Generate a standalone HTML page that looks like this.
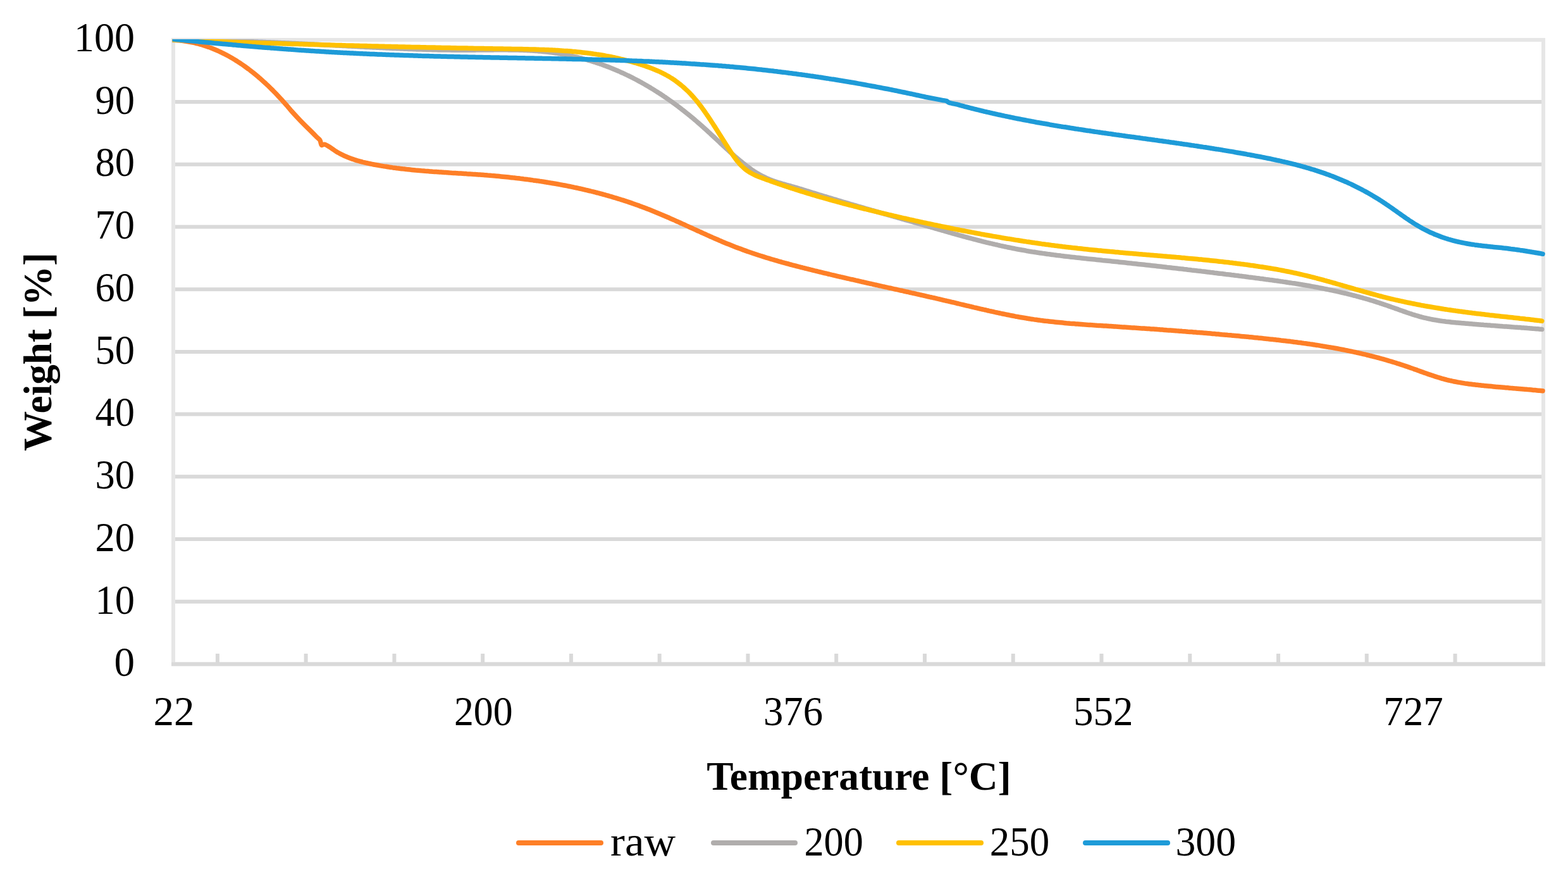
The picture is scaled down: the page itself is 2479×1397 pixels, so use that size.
<!DOCTYPE html>
<html><head><meta charset="utf-8"><title>TGA chart</title>
<style>html,body{margin:0;padding:0;background:#fff;overflow:hidden}svg{display:block}</style>
</head><body>
<svg width="2479" height="1397" viewBox="0 0 2479 1397">
<rect width="2479" height="1397" fill="#fff"/>
<rect x="274.0" y="63" width="2166.0" height="986.50" fill="none" stroke="#e6e6e6" stroke-width="6"/>
<line x1="277.0" x2="2437.0" y1="950.77" y2="950.77" stroke="#d9d9d9" stroke-width="6"/>
<line x1="277.0" x2="2437.0" y1="852.05" y2="852.05" stroke="#d9d9d9" stroke-width="6"/>
<line x1="277.0" x2="2437.0" y1="753.33" y2="753.33" stroke="#d9d9d9" stroke-width="6"/>
<line x1="277.0" x2="2437.0" y1="654.60" y2="654.60" stroke="#d9d9d9" stroke-width="6"/>
<line x1="277.0" x2="2437.0" y1="555.88" y2="555.88" stroke="#d9d9d9" stroke-width="6"/>
<line x1="277.0" x2="2437.0" y1="457.15" y2="457.15" stroke="#d9d9d9" stroke-width="6"/>
<line x1="277.0" x2="2437.0" y1="358.42" y2="358.42" stroke="#d9d9d9" stroke-width="6"/>
<line x1="277.0" x2="2437.0" y1="259.70" y2="259.70" stroke="#d9d9d9" stroke-width="6"/>
<line x1="277.0" x2="2437.0" y1="160.97" y2="160.97" stroke="#d9d9d9" stroke-width="6"/>
<line x1="271.0" x2="2443.0" y1="1049.50" y2="1049.50" stroke="#d9d9d9" stroke-width="6"/>
<line x1="343.88" x2="343.88" y1="1033" y2="1049.50" stroke="#d9d9d9" stroke-width="6"/>
<line x1="483.64" x2="483.64" y1="1033" y2="1049.50" stroke="#d9d9d9" stroke-width="6"/>
<line x1="623.40" x2="623.40" y1="1033" y2="1049.50" stroke="#d9d9d9" stroke-width="6"/>
<line x1="763.16" x2="763.16" y1="1033" y2="1049.50" stroke="#d9d9d9" stroke-width="6"/>
<line x1="902.92" x2="902.92" y1="1033" y2="1049.50" stroke="#d9d9d9" stroke-width="6"/>
<line x1="1042.68" x2="1042.68" y1="1033" y2="1049.50" stroke="#d9d9d9" stroke-width="6"/>
<line x1="1182.44" x2="1182.44" y1="1033" y2="1049.50" stroke="#d9d9d9" stroke-width="6"/>
<line x1="1322.20" x2="1322.20" y1="1033" y2="1049.50" stroke="#d9d9d9" stroke-width="6"/>
<line x1="1461.96" x2="1461.96" y1="1033" y2="1049.50" stroke="#d9d9d9" stroke-width="6"/>
<line x1="1601.72" x2="1601.72" y1="1033" y2="1049.50" stroke="#d9d9d9" stroke-width="6"/>
<line x1="1741.48" x2="1741.48" y1="1033" y2="1049.50" stroke="#d9d9d9" stroke-width="6"/>
<line x1="1881.24" x2="1881.24" y1="1033" y2="1049.50" stroke="#d9d9d9" stroke-width="6"/>
<line x1="2021.00" x2="2021.00" y1="1033" y2="1049.50" stroke="#d9d9d9" stroke-width="6"/>
<line x1="2160.76" x2="2160.76" y1="1033" y2="1049.50" stroke="#d9d9d9" stroke-width="6"/>
<line x1="2300.52" x2="2300.52" y1="1033" y2="1049.50" stroke="#d9d9d9" stroke-width="6"/>
<defs><clipPath id="pa"><rect x="272.5" y="62" width="2171.5" height="990"/></clipPath></defs>
<g clip-path="url(#pa)" fill="none" stroke-width="7.5" stroke-linecap="round" stroke-linejoin="round">
<path d="M273.0,63.1 C273.5,63.1 275.0,63.2 276.0,63.3 C277.0,63.3 278.0,63.4 279.0,63.5 C280.0,63.5 281.0,63.6 282.0,63.7 C283.0,63.8 284.0,63.9 285.0,64.0 C286.0,64.1 287.0,64.2 288.0,64.3 C289.0,64.5 290.0,64.6 291.0,64.7 C292.0,64.9 293.0,65.0 294.0,65.2 C295.0,65.3 296.0,65.5 297.0,65.7 C298.0,65.8 299.0,66.0 300.0,66.2 C301.0,66.4 302.0,66.6 303.0,66.8 C304.0,67.0 305.0,67.2 306.0,67.4 C307.0,67.7 308.0,67.9 309.0,68.1 C310.0,68.4 311.0,68.6 312.0,68.9 C313.0,69.1 314.0,69.4 315.0,69.7 C316.0,70.0 317.0,70.2 318.0,70.5 C319.0,70.8 320.0,71.1 321.0,71.4 C322.0,71.7 323.0,72.1 324.0,72.4 C325.0,72.7 326.0,73.1 327.0,73.4 C328.0,73.7 329.0,74.1 330.0,74.5 C331.0,74.8 332.0,75.2 333.0,75.6 C334.0,75.9 335.0,76.3 336.0,76.7 C337.0,77.1 338.0,77.5 339.0,77.9 C340.0,78.4 341.0,78.8 342.0,79.2 C343.0,79.7 344.0,80.1 345.0,80.5 C346.0,81.0 347.0,81.5 348.0,81.9 C349.0,82.4 350.0,82.9 351.0,83.4 C352.0,83.8 353.0,84.3 354.0,84.8 C355.0,85.4 356.0,85.9 357.0,86.4 C358.0,86.9 359.0,87.4 360.0,88.0 C361.0,88.5 362.0,89.1 363.0,89.6 C364.0,90.2 365.0,90.8 366.0,91.4 C367.0,91.9 368.0,92.5 369.0,93.1 C370.0,93.7 371.0,94.3 372.0,94.9 C373.0,95.6 374.0,96.2 375.0,96.8 C376.0,97.5 377.0,98.1 378.0,98.8 C379.0,99.4 380.0,100.1 381.0,100.7 C382.0,101.4 383.0,102.1 384.0,102.8 C385.0,103.5 386.0,104.2 387.0,104.9 C388.0,105.6 389.0,106.3 390.0,107.1 C391.0,107.8 392.0,108.5 393.0,109.3 C394.0,110.0 395.0,110.8 396.0,111.6 C397.0,112.3 398.0,113.1 399.0,113.9 C400.0,114.7 401.0,115.5 402.0,116.3 C403.0,117.1 404.0,117.9 405.0,118.8 C406.0,119.6 407.0,120.4 408.0,121.3 C409.0,122.1 410.0,123.0 411.0,123.8 C412.0,124.7 413.0,125.6 414.0,126.5 C415.0,127.4 416.0,128.3 417.0,129.2 C418.0,130.1 419.0,131.0 420.0,131.9 C421.0,132.9 422.0,133.8 423.0,134.7 C424.0,135.7 425.0,136.7 426.0,137.6 C427.0,138.6 428.0,139.6 429.0,140.6 C430.0,141.5 431.0,142.5 432.0,143.6 C433.0,144.6 434.0,145.6 435.0,146.6 C436.0,147.6 437.0,148.7 438.0,149.7 C439.0,150.8 440.0,151.8 441.0,152.9 C442.0,154.0 443.0,155.1 444.0,156.2 C445.0,157.3 446.0,158.4 447.0,159.5 C448.0,160.6 449.0,161.7 450.0,162.8 C451.0,164.0 452.0,165.1 453.0,166.3 C454.0,167.4 455.0,168.6 456.0,169.8 C457.0,170.9 458.2,172.4 459.0,173.3 C459.8,174.2 457.9,172.3 460.5,175.1 C463.1,178.0 468.9,184.4 474.6,190.3 C480.3,196.2 490.4,206.1 494.8,210.5 C499.2,214.9 499.0,214.8 500.8,216.6 C502.6,218.4 504.6,219.5 505.9,221.6 C507.2,223.7 507.2,228.1 508.4,229.2 C509.6,230.3 510.9,227.7 513.0,228.2 C515.1,228.7 518.0,230.4 521.0,232.2 C524.0,234.0 528.9,237.8 531.1,239.2 C533.3,240.7 533.1,240.4 534.1,241.0 C535.1,241.5 536.1,242.1 537.1,242.6 C538.1,243.1 539.1,243.6 540.1,244.1 C541.1,244.6 542.1,245.1 543.1,245.6 C544.1,246.1 545.1,246.5 546.1,246.9 C547.1,247.4 548.1,247.8 549.1,248.2 C550.1,248.6 551.1,249.0 552.1,249.4 C553.1,249.8 554.1,250.2 555.1,250.6 C556.1,250.9 557.1,251.3 558.1,251.6 C559.1,252.0 560.1,252.3 561.1,252.6 C562.1,252.9 563.1,253.3 564.1,253.6 C565.1,253.9 566.1,254.2 567.1,254.4 C568.1,254.7 569.1,255.0 570.1,255.3 C571.1,255.5 572.1,255.8 573.1,256.1 C574.1,256.3 575.1,256.5 576.1,256.8 C577.1,257.0 578.1,257.3 579.1,257.5 C580.1,257.7 581.1,257.9 582.1,258.1 C583.1,258.4 584.1,258.6 585.1,258.8 C586.1,259.0 587.1,259.2 588.1,259.4 C589.1,259.6 590.1,259.8 591.1,260.0 C592.1,260.2 593.1,260.3 594.1,260.5 C595.1,260.7 596.1,260.9 597.1,261.1 C598.1,261.2 599.1,261.4 600.1,261.6 C601.1,261.8 602.1,261.9 603.1,262.1 C604.1,262.3 605.1,262.4 606.1,262.6 C607.1,262.8 608.1,262.9 609.1,263.1 C610.1,263.2 611.1,263.4 612.1,263.5 C613.1,263.7 614.1,263.8 615.1,264.0 C616.1,264.1 617.1,264.3 618.1,264.4 C619.1,264.6 620.1,264.7 621.1,264.9 C622.1,265.0 623.1,265.1 624.1,265.3 C625.1,265.4 626.1,265.5 627.1,265.7 C628.1,265.8 629.1,265.9 630.1,266.0 C631.1,266.2 632.1,266.3 633.1,266.4 C634.1,266.5 635.1,266.6 636.1,266.8 C637.1,266.9 638.1,267.0 639.1,267.1 C640.1,267.2 641.1,267.3 642.1,267.4 C643.1,267.5 644.1,267.7 645.1,267.8 C646.1,267.9 647.1,268.0 648.1,268.1 C649.1,268.2 650.1,268.3 651.1,268.4 C652.1,268.5 653.1,268.6 654.1,268.7 C655.1,268.8 656.1,268.9 657.1,269.0 C658.1,269.0 659.1,269.1 660.1,269.2 C661.1,269.3 662.1,269.4 663.1,269.5 C664.1,269.6 665.1,269.7 666.1,269.8 C667.1,269.8 668.1,269.9 669.1,270.0 C670.1,270.1 671.1,270.2 672.1,270.3 C673.1,270.3 674.1,270.4 675.1,270.5 C676.1,270.6 677.1,270.6 678.1,270.7 C679.1,270.8 680.1,270.9 681.1,270.9 C682.1,271.0 683.1,271.1 684.1,271.2 C685.1,271.2 686.1,271.3 687.1,271.4 C688.1,271.5 689.1,271.5 690.1,271.6 C691.1,271.7 692.1,271.7 693.1,271.8 C694.1,271.9 695.1,271.9 696.1,272.0 C697.1,272.1 698.1,272.1 699.1,272.2 C700.1,272.3 701.1,272.3 702.1,272.4 C703.1,272.5 704.1,272.5 705.1,272.6 C706.1,272.7 707.1,272.7 708.1,272.8 C709.1,272.9 710.1,272.9 711.1,273.0 C712.1,273.0 713.1,273.1 714.1,273.2 C715.1,273.2 716.1,273.3 717.1,273.4 C718.1,273.4 719.1,273.5 720.1,273.5 C721.1,273.6 722.1,273.7 723.1,273.7 C724.1,273.8 725.1,273.9 726.1,273.9 C727.1,274.0 728.1,274.0 729.1,274.1 C730.1,274.2 731.1,274.2 732.1,274.3 C733.1,274.4 734.1,274.4 735.1,274.5 C736.1,274.6 737.1,274.6 738.1,274.7 C739.1,274.7 740.1,274.8 741.1,274.9 C742.1,274.9 743.1,275.0 744.1,275.1 C745.1,275.1 746.1,275.2 747.1,275.3 C748.1,275.3 749.1,275.4 750.1,275.5 C751.1,275.6 752.1,275.6 753.1,275.7 C754.1,275.8 755.1,275.8 756.1,275.9 C757.1,276.0 758.1,276.0 759.1,276.1 C760.1,276.2 761.1,276.3 762.1,276.3 C763.1,276.4 764.1,276.5 765.1,276.6 C766.1,276.7 767.1,276.7 768.1,276.8 C769.1,276.9 770.1,277.0 771.1,277.1 C772.1,277.1 773.1,277.2 774.1,277.3 C775.1,277.4 776.1,277.5 777.1,277.6 C778.1,277.6 779.1,277.7 780.1,277.8 C781.1,277.9 782.1,278.0 783.1,278.1 C784.1,278.2 785.1,278.3 786.1,278.3 C787.1,278.4 788.1,278.5 789.1,278.6 C790.1,278.7 791.1,278.8 792.1,278.9 C793.1,279.0 794.1,279.1 795.1,279.2 C796.1,279.3 797.1,279.4 798.1,279.5 C799.1,279.6 800.1,279.7 801.1,279.8 C802.1,279.9 803.1,280.0 804.1,280.1 C805.1,280.2 806.1,280.3 807.1,280.4 C808.1,280.5 809.1,280.6 810.1,280.8 C811.1,280.9 812.1,281.0 813.1,281.1 C814.1,281.2 815.1,281.3 816.1,281.4 C817.1,281.5 818.1,281.7 819.1,281.8 C820.1,281.9 821.1,282.0 822.1,282.1 C823.1,282.3 824.1,282.4 825.1,282.5 C826.1,282.6 827.1,282.7 828.1,282.9 C829.1,283.0 830.1,283.1 831.1,283.2 C832.1,283.4 833.1,283.5 834.1,283.6 C835.1,283.8 836.1,283.9 837.1,284.0 C838.1,284.2 839.1,284.3 840.1,284.4 C841.1,284.6 842.1,284.7 843.1,284.9 C844.1,285.0 845.1,285.1 846.1,285.3 C847.1,285.4 848.1,285.6 849.1,285.7 C850.1,285.8 851.1,286.0 852.1,286.1 C853.1,286.3 854.1,286.4 855.1,286.6 C856.1,286.7 857.1,286.9 858.1,287.1 C859.1,287.2 860.1,287.4 861.1,287.5 C862.1,287.7 863.1,287.8 864.1,288.0 C865.1,288.2 866.1,288.3 867.1,288.5 C868.1,288.6 869.1,288.8 870.1,289.0 C871.1,289.1 872.1,289.3 873.1,289.5 C874.1,289.7 875.1,289.8 876.1,290.0 C877.1,290.2 878.1,290.4 879.1,290.5 C880.1,290.7 881.1,290.9 882.1,291.1 C883.1,291.2 884.1,291.4 885.1,291.6 C886.1,291.8 887.1,292.0 888.1,292.2 C889.1,292.4 890.1,292.5 891.1,292.7 C892.1,292.9 893.1,293.1 894.1,293.3 C895.1,293.5 896.1,293.7 897.1,293.9 C898.1,294.1 899.1,294.3 900.1,294.5 C901.1,294.7 902.1,294.9 903.1,295.1 C904.1,295.3 905.1,295.5 906.1,295.7 C907.1,295.9 908.1,296.2 909.1,296.4 C910.1,296.6 911.1,296.8 912.1,297.0 C913.1,297.2 914.1,297.4 915.1,297.7 C916.1,297.9 917.1,298.1 918.1,298.3 C919.1,298.6 920.1,298.8 921.1,299.0 C922.1,299.2 923.1,299.5 924.1,299.7 C925.1,299.9 926.1,300.2 927.1,300.4 C928.1,300.6 929.1,300.9 930.1,301.1 C931.1,301.4 932.1,301.6 933.1,301.9 C934.1,302.1 935.1,302.3 936.1,302.6 C937.1,302.8 938.1,303.1 939.1,303.3 C940.1,303.6 941.1,303.8 942.1,304.1 C943.1,304.4 944.1,304.6 945.1,304.9 C946.1,305.1 947.1,305.4 948.1,305.7 C949.1,305.9 950.1,306.2 951.1,306.5 C952.1,306.7 953.1,307.0 954.1,307.3 C955.1,307.6 956.1,307.8 957.1,308.1 C958.1,308.4 959.1,308.7 960.1,309.0 C961.1,309.2 962.1,309.5 963.1,309.8 C964.1,310.1 965.1,310.4 966.1,310.7 C967.1,311.0 968.1,311.3 969.1,311.6 C970.1,311.9 971.1,312.2 972.1,312.5 C973.1,312.8 974.1,313.1 975.1,313.4 C976.1,313.7 977.1,314.0 978.1,314.3 C979.1,314.6 980.1,314.9 981.1,315.2 C982.1,315.6 983.1,315.9 984.1,316.2 C985.1,316.5 986.1,316.8 987.1,317.2 C988.1,317.5 989.1,317.8 990.1,318.1 C991.1,318.5 992.1,318.8 993.1,319.1 C994.1,319.5 995.1,319.8 996.1,320.2 C997.1,320.5 998.1,320.8 999.1,321.2 C1000.1,321.5 1001.1,321.9 1002.1,322.2 C1003.1,322.6 1004.1,322.9 1005.1,323.3 C1006.1,323.6 1007.1,324.0 1008.1,324.3 C1009.1,324.7 1010.1,325.1 1011.1,325.4 C1012.1,325.8 1013.1,326.2 1014.1,326.5 C1015.1,326.9 1016.1,327.3 1017.1,327.7 C1018.1,328.0 1019.1,328.4 1020.1,328.8 C1021.1,329.2 1022.1,329.5 1023.1,329.9 C1024.1,330.3 1025.1,330.7 1026.1,331.1 C1027.1,331.5 1028.1,331.9 1029.1,332.3 C1030.1,332.7 1031.1,333.1 1032.1,333.5 C1033.1,333.9 1034.1,334.3 1035.1,334.7 C1036.1,335.1 1037.1,335.5 1038.1,335.9 C1039.1,336.3 1040.1,336.7 1041.1,337.2 C1042.1,337.6 1043.1,338.0 1044.1,338.4 C1045.1,338.8 1046.1,339.3 1047.1,339.7 C1048.1,340.1 1049.1,340.5 1050.1,341.0 C1051.1,341.4 1052.1,341.8 1053.1,342.3 C1054.1,342.7 1055.1,343.1 1056.1,343.6 C1057.1,344.0 1058.1,344.4 1059.1,344.9 C1060.1,345.3 1061.1,345.8 1062.1,346.2 C1063.1,346.6 1064.1,347.1 1065.1,347.5 C1066.1,348.0 1067.1,348.4 1068.1,348.9 C1069.1,349.3 1070.1,349.8 1071.1,350.2 C1072.1,350.7 1073.1,351.1 1074.1,351.6 C1075.1,352.0 1076.1,352.5 1077.1,352.9 C1078.1,353.4 1079.1,353.8 1080.1,354.3 C1081.1,354.7 1082.1,355.2 1083.1,355.6 C1084.1,356.1 1085.1,356.5 1086.1,357.0 C1087.1,357.5 1088.1,357.9 1089.1,358.4 C1090.1,358.8 1091.1,359.3 1092.1,359.7 C1093.1,360.2 1094.1,360.7 1095.1,361.1 C1096.1,361.6 1097.1,362.0 1098.1,362.5 C1099.1,362.9 1100.1,363.4 1101.1,363.8 C1102.1,364.3 1103.1,364.8 1104.1,365.2 C1105.1,365.7 1106.1,366.1 1107.1,366.6 C1108.1,367.0 1109.1,367.5 1110.1,367.9 C1111.1,368.4 1112.1,368.8 1113.1,369.3 C1114.1,369.7 1115.1,370.2 1116.1,370.6 C1117.1,371.1 1118.1,371.5 1119.1,372.0 C1120.1,372.4 1121.1,372.9 1122.1,373.3 C1123.1,373.8 1124.1,374.2 1125.1,374.6 C1126.1,375.1 1127.1,375.5 1128.1,376.0 C1129.1,376.4 1130.1,376.8 1131.1,377.3 C1132.1,377.7 1133.1,378.1 1134.1,378.6 C1135.1,379.0 1136.1,379.4 1137.1,379.9 C1138.1,380.3 1139.1,380.7 1140.1,381.1 C1141.1,381.6 1142.1,382.0 1143.1,382.4 C1144.1,382.8 1145.1,383.2 1146.1,383.7 C1147.1,384.1 1148.1,384.5 1149.1,384.9 C1150.1,385.3 1151.1,385.7 1152.1,386.1 C1153.1,386.5 1154.1,386.9 1155.1,387.3 C1156.1,387.7 1157.1,388.1 1158.1,388.5 C1159.1,388.9 1160.1,389.3 1161.1,389.7 C1162.1,390.1 1163.1,390.5 1164.1,390.9 C1165.1,391.2 1166.1,391.6 1167.1,392.0 C1168.1,392.4 1169.1,392.7 1170.1,393.1 C1171.1,393.5 1172.1,393.9 1173.1,394.2 C1174.1,394.6 1175.1,395.0 1176.1,395.3 C1177.1,395.7 1178.1,396.0 1179.1,396.4 C1180.1,396.7 1181.1,397.1 1182.1,397.5 C1183.1,397.8 1184.1,398.2 1185.1,398.5 C1186.1,398.8 1187.1,399.2 1188.1,399.5 C1189.1,399.9 1190.1,400.2 1191.1,400.5 C1192.1,400.9 1193.1,401.2 1194.1,401.5 C1195.1,401.9 1196.1,402.2 1197.1,402.5 C1198.1,402.9 1199.1,403.2 1200.1,403.5 C1201.1,403.8 1202.1,404.2 1203.1,404.5 C1204.1,404.8 1205.1,405.1 1206.1,405.4 C1207.1,405.7 1208.1,406.1 1209.1,406.4 C1210.1,406.7 1211.1,407.0 1212.1,407.3 C1213.1,407.6 1214.1,407.9 1215.1,408.2 C1216.1,408.5 1217.1,408.8 1218.1,409.1 C1219.1,409.4 1220.1,409.7 1221.1,410.0 C1222.1,410.3 1223.1,410.6 1224.1,410.9 C1225.1,411.2 1226.1,411.5 1227.1,411.7 C1228.1,412.0 1229.1,412.3 1230.1,412.6 C1231.1,412.9 1232.1,413.2 1233.1,413.5 C1234.1,413.7 1235.1,414.0 1236.1,414.3 C1237.1,414.6 1238.1,414.9 1239.1,415.1 C1240.1,415.4 1241.1,415.7 1242.1,416.0 C1243.1,416.2 1244.1,416.5 1245.1,416.8 C1246.1,417.0 1247.1,417.3 1248.1,417.6 C1249.1,417.9 1250.1,418.1 1251.1,418.4 C1252.1,418.7 1253.1,418.9 1254.1,419.2 C1255.1,419.4 1256.1,419.7 1257.1,420.0 C1258.1,420.2 1259.1,420.5 1260.1,420.8 C1261.1,421.0 1262.1,421.3 1263.1,421.5 C1264.1,421.8 1265.1,422.0 1266.1,422.3 C1267.1,422.6 1268.1,422.8 1269.1,423.1 C1270.1,423.3 1271.1,423.6 1272.1,423.8 C1273.1,424.1 1274.1,424.3 1275.1,424.6 C1276.1,424.8 1277.1,425.1 1278.1,425.3 C1279.1,425.6 1280.1,425.8 1281.1,426.1 C1282.1,426.3 1283.1,426.6 1284.1,426.8 C1285.1,427.1 1286.1,427.3 1287.1,427.6 C1288.1,427.8 1289.1,428.0 1290.1,428.3 C1291.1,428.5 1292.1,428.8 1293.1,429.0 C1294.1,429.3 1295.1,429.5 1296.1,429.8 C1297.1,430.0 1298.1,430.2 1299.1,430.5 C1300.1,430.7 1301.1,431.0 1302.1,431.2 C1303.1,431.4 1304.1,431.7 1305.1,431.9 C1306.1,432.2 1307.1,432.4 1308.1,432.6 C1309.1,432.9 1310.1,433.1 1311.1,433.4 C1312.1,433.6 1313.1,433.8 1314.1,434.1 C1315.1,434.3 1316.1,434.5 1317.1,434.8 C1318.1,435.0 1319.1,435.3 1320.1,435.5 C1321.1,435.7 1322.1,436.0 1323.1,436.2 C1324.1,436.4 1325.1,436.7 1326.1,436.9 C1327.1,437.1 1328.1,437.4 1329.1,437.6 C1330.1,437.8 1331.1,438.1 1332.1,438.3 C1333.1,438.5 1334.1,438.8 1335.1,439.0 C1336.1,439.2 1337.1,439.4 1338.1,439.7 C1339.1,439.9 1340.1,440.1 1341.1,440.4 C1342.1,440.6 1343.1,440.8 1344.1,441.1 C1345.1,441.3 1346.1,441.5 1347.1,441.7 C1348.1,442.0 1349.1,442.2 1350.1,442.4 C1351.1,442.7 1352.1,442.9 1353.1,443.1 C1354.1,443.3 1355.1,443.6 1356.1,443.8 C1357.1,444.0 1358.1,444.2 1359.1,444.5 C1360.1,444.7 1361.1,444.9 1362.1,445.2 C1363.1,445.4 1364.1,445.6 1365.1,445.8 C1366.1,446.1 1367.1,446.3 1368.1,446.5 C1369.1,446.7 1370.1,447.0 1371.1,447.2 C1372.1,447.4 1373.1,447.6 1374.1,447.9 C1375.1,448.1 1376.1,448.3 1377.1,448.5 C1378.1,448.8 1379.1,449.0 1380.1,449.2 C1381.1,449.4 1382.1,449.7 1383.1,449.9 C1384.1,450.1 1385.1,450.3 1386.1,450.5 C1387.1,450.8 1388.1,451.0 1389.1,451.2 C1390.1,451.4 1391.1,451.7 1392.1,451.9 C1393.1,452.1 1394.1,452.3 1395.1,452.6 C1396.1,452.8 1397.1,453.0 1398.1,453.2 C1399.1,453.4 1400.1,453.7 1401.1,453.9 C1402.1,454.1 1403.1,454.3 1404.1,454.6 C1405.1,454.8 1406.1,455.0 1407.1,455.2 C1408.1,455.5 1409.1,455.7 1410.1,455.9 C1411.1,456.1 1412.1,456.3 1413.1,456.6 C1414.1,456.8 1415.1,457.0 1416.1,457.2 C1417.1,457.5 1418.1,457.7 1419.1,457.9 C1420.1,458.1 1421.1,458.3 1422.1,458.6 C1423.1,458.8 1424.1,459.0 1425.1,459.2 C1426.1,459.5 1427.1,459.7 1428.1,459.9 C1429.1,460.1 1430.1,460.4 1431.1,460.6 C1432.1,460.8 1433.1,461.0 1434.1,461.2 C1435.1,461.5 1436.1,461.7 1437.1,461.9 C1438.1,462.1 1439.1,462.4 1440.1,462.6 C1441.1,462.8 1442.1,463.0 1443.1,463.3 C1444.1,463.5 1445.1,463.7 1446.1,463.9 C1447.1,464.2 1448.1,464.4 1449.1,464.6 C1450.1,464.8 1451.1,465.1 1452.1,465.3 C1453.1,465.5 1454.1,465.7 1455.1,466.0 C1456.1,466.2 1457.1,466.4 1458.1,466.6 C1459.1,466.9 1460.1,467.1 1461.1,467.3 C1462.1,467.5 1463.1,467.8 1464.1,468.0 C1465.1,468.2 1466.1,468.5 1467.1,468.7 C1468.1,468.9 1469.1,469.1 1470.1,469.4 C1471.1,469.6 1472.1,469.8 1473.1,470.0 C1474.1,470.3 1475.1,470.5 1476.1,470.7 C1477.1,471.0 1478.1,471.2 1479.1,471.4 C1480.1,471.7 1481.1,471.9 1482.1,472.1 C1483.1,472.3 1484.1,472.6 1485.1,472.8 C1486.1,473.0 1487.1,473.3 1488.1,473.5 C1489.1,473.7 1490.1,474.0 1491.1,474.2 C1492.1,474.4 1493.1,474.7 1494.1,474.9 C1495.1,475.1 1496.1,475.4 1497.1,475.6 C1498.1,475.8 1499.1,476.1 1500.1,476.3 C1501.1,476.5 1502.1,476.8 1503.1,477.0 C1504.1,477.2 1505.1,477.5 1506.1,477.7 C1507.1,478.0 1508.1,478.2 1509.1,478.4 C1510.1,478.7 1511.1,478.9 1512.1,479.1 C1513.1,479.4 1514.1,479.6 1515.1,479.9 C1516.1,480.1 1517.1,480.3 1518.1,480.6 C1519.1,480.8 1520.1,481.0 1521.1,481.3 C1522.1,481.5 1523.1,481.8 1524.1,482.0 C1525.1,482.2 1526.1,482.5 1527.1,482.7 C1528.1,482.9 1529.1,483.2 1530.1,483.4 C1531.1,483.7 1532.1,483.9 1533.1,484.1 C1534.1,484.4 1535.1,484.6 1536.1,484.8 C1537.1,485.1 1538.1,485.3 1539.1,485.6 C1540.1,485.8 1541.1,486.0 1542.1,486.3 C1543.1,486.5 1544.1,486.7 1545.1,487.0 C1546.1,487.2 1547.1,487.4 1548.1,487.7 C1549.1,487.9 1550.1,488.1 1551.1,488.4 C1552.1,488.6 1553.1,488.8 1554.1,489.0 C1555.1,489.3 1556.1,489.5 1557.1,489.7 C1558.1,490.0 1559.1,490.2 1560.1,490.4 C1561.1,490.6 1562.1,490.9 1563.1,491.1 C1564.1,491.3 1565.1,491.5 1566.1,491.8 C1567.1,492.0 1568.1,492.2 1569.1,492.4 C1570.1,492.7 1571.1,492.9 1572.1,493.1 C1573.1,493.3 1574.1,493.5 1575.1,493.8 C1576.1,494.0 1577.1,494.2 1578.1,494.4 C1579.1,494.6 1580.1,494.8 1581.1,495.0 C1582.1,495.3 1583.1,495.5 1584.1,495.7 C1585.1,495.9 1586.1,496.1 1587.1,496.3 C1588.1,496.5 1589.1,496.7 1590.1,496.9 C1591.1,497.1 1592.1,497.3 1593.1,497.5 C1594.1,497.7 1595.1,497.9 1596.1,498.1 C1597.1,498.3 1598.1,498.5 1599.1,498.7 C1600.1,498.9 1601.1,499.1 1602.1,499.3 C1603.1,499.5 1604.1,499.7 1605.1,499.9 C1606.1,500.0 1607.1,500.2 1608.1,500.4 C1609.1,500.6 1610.1,500.8 1611.1,501.0 C1612.1,501.1 1613.1,501.3 1614.1,501.5 C1615.1,501.7 1616.1,501.8 1617.1,502.0 C1618.1,502.2 1619.1,502.4 1620.1,502.5 C1621.1,502.7 1622.1,502.9 1623.1,503.0 C1624.1,503.2 1625.1,503.3 1626.1,503.5 C1627.1,503.7 1628.1,503.8 1629.1,504.0 C1630.1,504.1 1631.1,504.3 1632.1,504.4 C1633.1,504.6 1634.1,504.7 1635.1,504.9 C1636.1,505.0 1637.1,505.2 1638.1,505.3 C1639.1,505.4 1640.1,505.6 1641.1,505.7 C1642.1,505.9 1643.1,506.0 1644.1,506.1 C1645.1,506.3 1646.1,506.4 1647.1,506.5 C1648.1,506.6 1649.1,506.8 1650.1,506.9 C1651.1,507.0 1652.1,507.1 1653.1,507.3 C1654.1,507.4 1655.1,507.5 1656.1,507.6 C1657.1,507.7 1658.1,507.9 1659.1,508.0 C1660.1,508.1 1661.1,508.2 1662.1,508.3 C1663.1,508.4 1664.1,508.5 1665.1,508.6 C1666.1,508.7 1667.1,508.8 1668.1,508.9 C1669.1,509.0 1670.1,509.1 1671.1,509.2 C1672.1,509.3 1673.1,509.4 1674.1,509.5 C1675.1,509.6 1676.1,509.7 1677.1,509.8 C1678.1,509.9 1679.1,510.0 1680.1,510.1 C1681.1,510.2 1682.1,510.3 1683.1,510.4 C1684.1,510.5 1685.1,510.6 1686.1,510.7 C1687.1,510.7 1688.1,510.8 1689.1,510.9 C1690.1,511.0 1691.1,511.1 1692.1,511.2 C1693.1,511.2 1694.1,511.3 1695.1,511.4 C1696.1,511.5 1697.1,511.6 1698.1,511.6 C1699.1,511.7 1700.1,511.8 1701.1,511.9 C1702.1,512.0 1703.1,512.0 1704.1,512.1 C1705.1,512.2 1706.1,512.3 1707.1,512.3 C1708.1,512.4 1709.1,512.5 1710.1,512.5 C1711.1,512.6 1712.1,512.7 1713.1,512.8 C1714.1,512.8 1715.1,512.9 1716.1,513.0 C1717.1,513.0 1718.1,513.1 1719.1,513.2 C1720.1,513.2 1721.1,513.3 1722.1,513.4 C1723.1,513.4 1724.1,513.5 1725.1,513.6 C1726.1,513.6 1727.1,513.7 1728.1,513.8 C1729.1,513.8 1730.1,513.9 1731.1,514.0 C1732.1,514.0 1733.1,514.1 1734.1,514.2 C1735.1,514.2 1736.1,514.3 1737.1,514.4 C1738.1,514.4 1739.1,514.5 1740.1,514.5 C1741.1,514.6 1742.1,514.7 1743.1,514.7 C1744.1,514.8 1745.1,514.9 1746.1,514.9 C1747.1,515.0 1748.1,515.1 1749.1,515.1 C1750.1,515.2 1751.1,515.2 1752.1,515.3 C1753.1,515.4 1754.1,515.4 1755.1,515.5 C1756.1,515.6 1757.1,515.6 1758.1,515.7 C1759.1,515.8 1760.1,515.8 1761.1,515.9 C1762.1,516.0 1763.1,516.0 1764.1,516.1 C1765.1,516.1 1766.1,516.2 1767.1,516.3 C1768.1,516.3 1769.1,516.4 1770.1,516.5 C1771.1,516.5 1772.1,516.6 1773.1,516.7 C1774.1,516.7 1775.1,516.8 1776.1,516.9 C1777.1,516.9 1778.1,517.0 1779.1,517.1 C1780.1,517.1 1781.1,517.2 1782.1,517.3 C1783.1,517.3 1784.1,517.4 1785.1,517.5 C1786.1,517.5 1787.1,517.6 1788.1,517.7 C1789.1,517.7 1790.1,517.8 1791.1,517.9 C1792.1,517.9 1793.1,518.0 1794.1,518.1 C1795.1,518.1 1796.1,518.2 1797.1,518.3 C1798.1,518.3 1799.1,518.4 1800.1,518.5 C1801.1,518.5 1802.1,518.6 1803.1,518.7 C1804.1,518.7 1805.1,518.8 1806.1,518.9 C1807.1,518.9 1808.1,519.0 1809.1,519.1 C1810.1,519.2 1811.1,519.2 1812.1,519.3 C1813.1,519.4 1814.1,519.4 1815.1,519.5 C1816.1,519.6 1817.1,519.6 1818.1,519.7 C1819.1,519.8 1820.1,519.9 1821.1,519.9 C1822.1,520.0 1823.1,520.1 1824.1,520.1 C1825.1,520.2 1826.1,520.3 1827.1,520.3 C1828.1,520.4 1829.1,520.5 1830.1,520.6 C1831.1,520.6 1832.1,520.7 1833.1,520.8 C1834.1,520.9 1835.1,520.9 1836.1,521.0 C1837.1,521.1 1838.1,521.1 1839.1,521.2 C1840.1,521.3 1841.1,521.4 1842.1,521.4 C1843.1,521.5 1844.1,521.6 1845.1,521.7 C1846.1,521.7 1847.1,521.8 1848.1,521.9 C1849.1,521.9 1850.1,522.0 1851.1,522.1 C1852.1,522.2 1853.1,522.2 1854.1,522.3 C1855.1,522.4 1856.1,522.5 1857.1,522.5 C1858.1,522.6 1859.1,522.7 1860.1,522.8 C1861.1,522.8 1862.1,522.9 1863.1,523.0 C1864.1,523.1 1865.1,523.2 1866.1,523.2 C1867.1,523.3 1868.1,523.4 1869.1,523.5 C1870.1,523.5 1871.1,523.6 1872.1,523.7 C1873.1,523.8 1874.1,523.8 1875.1,523.9 C1876.1,524.0 1877.1,524.1 1878.1,524.2 C1879.1,524.2 1880.1,524.3 1881.1,524.4 C1882.1,524.5 1883.1,524.6 1884.1,524.6 C1885.1,524.7 1886.1,524.8 1887.1,524.9 C1888.1,525.0 1889.1,525.0 1890.1,525.1 C1891.1,525.2 1892.1,525.3 1893.1,525.4 C1894.1,525.4 1895.1,525.5 1896.1,525.6 C1897.1,525.7 1898.1,525.8 1899.1,525.8 C1900.1,525.9 1901.1,526.0 1902.1,526.1 C1903.1,526.2 1904.1,526.3 1905.1,526.3 C1906.1,526.4 1907.1,526.5 1908.1,526.6 C1909.1,526.7 1910.1,526.8 1911.1,526.8 C1912.1,526.9 1913.1,527.0 1914.1,527.1 C1915.1,527.2 1916.1,527.3 1917.1,527.4 C1918.1,527.4 1919.1,527.5 1920.1,527.6 C1921.1,527.7 1922.1,527.8 1923.1,527.9 C1924.1,528.0 1925.1,528.0 1926.1,528.1 C1927.1,528.2 1928.1,528.3 1929.1,528.4 C1930.1,528.5 1931.1,528.6 1932.1,528.7 C1933.1,528.7 1934.1,528.8 1935.1,528.9 C1936.1,529.0 1937.1,529.1 1938.1,529.2 C1939.1,529.3 1940.1,529.4 1941.1,529.5 C1942.1,529.5 1943.1,529.6 1944.1,529.7 C1945.1,529.8 1946.1,529.9 1947.1,530.0 C1948.1,530.1 1949.1,530.2 1950.1,530.3 C1951.1,530.4 1952.1,530.5 1953.1,530.5 C1954.1,530.6 1955.1,530.7 1956.1,530.8 C1957.1,530.9 1958.1,531.0 1959.1,531.1 C1960.1,531.2 1961.1,531.3 1962.1,531.4 C1963.1,531.5 1964.1,531.6 1965.1,531.7 C1966.1,531.8 1967.1,531.9 1968.1,532.0 C1969.1,532.1 1970.1,532.1 1971.1,532.2 C1972.1,532.3 1973.1,532.4 1974.1,532.5 C1975.1,532.6 1976.1,532.7 1977.1,532.8 C1978.1,532.9 1979.1,533.0 1980.1,533.1 C1981.1,533.2 1982.1,533.3 1983.1,533.4 C1984.1,533.5 1985.1,533.6 1986.1,533.7 C1987.1,533.8 1988.1,533.9 1989.1,534.0 C1990.1,534.1 1991.1,534.2 1992.1,534.3 C1993.1,534.4 1994.1,534.5 1995.1,534.6 C1996.1,534.7 1997.1,534.8 1998.1,534.9 C1999.1,535.0 2000.1,535.1 2001.1,535.2 C2002.1,535.3 2003.1,535.4 2004.1,535.6 C2005.1,535.7 2006.1,535.8 2007.1,535.9 C2008.1,536.0 2009.1,536.1 2010.1,536.2 C2011.1,536.3 2012.1,536.4 2013.1,536.5 C2014.1,536.6 2015.1,536.7 2016.1,536.8 C2017.1,537.0 2018.1,537.1 2019.1,537.2 C2020.1,537.3 2021.1,537.4 2022.1,537.5 C2023.1,537.6 2024.1,537.7 2025.1,537.9 C2026.1,538.0 2027.1,538.1 2028.1,538.2 C2029.1,538.3 2030.1,538.4 2031.1,538.6 C2032.1,538.7 2033.1,538.8 2034.1,538.9 C2035.1,539.0 2036.1,539.2 2037.1,539.3 C2038.1,539.4 2039.1,539.5 2040.1,539.6 C2041.1,539.8 2042.1,539.9 2043.1,540.0 C2044.1,540.1 2045.1,540.3 2046.1,540.4 C2047.1,540.5 2048.1,540.7 2049.1,540.8 C2050.1,540.9 2051.1,541.0 2052.1,541.2 C2053.1,541.3 2054.1,541.4 2055.1,541.6 C2056.1,541.7 2057.1,541.8 2058.1,542.0 C2059.1,542.1 2060.1,542.2 2061.1,542.4 C2062.1,542.5 2063.1,542.7 2064.1,542.8 C2065.1,542.9 2066.1,543.1 2067.1,543.2 C2068.1,543.4 2069.1,543.5 2070.1,543.6 C2071.1,543.8 2072.1,543.9 2073.1,544.1 C2074.1,544.2 2075.1,544.4 2076.1,544.5 C2077.1,544.7 2078.1,544.8 2079.1,545.0 C2080.1,545.1 2081.1,545.3 2082.1,545.4 C2083.1,545.6 2084.1,545.7 2085.1,545.9 C2086.1,546.1 2087.1,546.2 2088.1,546.4 C2089.1,546.5 2090.1,546.7 2091.1,546.9 C2092.1,547.0 2093.1,547.2 2094.1,547.4 C2095.1,547.5 2096.1,547.7 2097.1,547.9 C2098.1,548.0 2099.1,548.2 2100.1,548.4 C2101.1,548.5 2102.1,548.7 2103.1,548.9 C2104.1,549.1 2105.1,549.2 2106.1,549.4 C2107.1,549.6 2108.1,549.8 2109.1,549.9 C2110.1,550.1 2111.1,550.3 2112.1,550.5 C2113.1,550.7 2114.1,550.9 2115.1,551.0 C2116.1,551.2 2117.1,551.4 2118.1,551.6 C2119.1,551.8 2120.1,552.0 2121.1,552.2 C2122.1,552.4 2123.1,552.6 2124.1,552.8 C2125.1,553.0 2126.1,553.2 2127.1,553.4 C2128.1,553.6 2129.1,553.8 2130.1,554.0 C2131.1,554.2 2132.1,554.4 2133.1,554.6 C2134.1,554.8 2135.1,555.0 2136.1,555.2 C2137.1,555.4 2138.1,555.6 2139.1,555.9 C2140.1,556.1 2141.1,556.3 2142.1,556.5 C2143.1,556.7 2144.1,556.9 2145.1,557.2 C2146.1,557.4 2147.1,557.6 2148.1,557.8 C2149.1,558.1 2150.1,558.3 2151.1,558.5 C2152.1,558.7 2153.1,559.0 2154.1,559.2 C2155.1,559.4 2156.1,559.7 2157.1,559.9 C2158.1,560.2 2159.1,560.4 2160.1,560.6 C2161.1,560.9 2162.1,561.1 2163.1,561.4 C2164.1,561.6 2165.1,561.9 2166.1,562.1 C2167.1,562.4 2168.1,562.6 2169.1,562.9 C2170.1,563.1 2171.1,563.4 2172.1,563.6 C2173.1,563.9 2174.1,564.2 2175.1,564.4 C2176.1,564.7 2177.1,565.0 2178.1,565.2 C2179.1,565.5 2180.1,565.8 2181.1,566.0 C2182.1,566.3 2183.1,566.6 2184.1,566.9 C2185.1,567.1 2186.1,567.4 2187.1,567.7 C2188.1,568.0 2189.1,568.3 2190.1,568.5 C2191.1,568.8 2192.1,569.1 2193.1,569.4 C2194.1,569.7 2195.1,570.0 2196.1,570.3 C2197.1,570.6 2198.1,570.9 2199.1,571.2 C2200.1,571.5 2201.1,571.8 2202.1,572.1 C2203.1,572.4 2204.1,572.7 2205.1,573.0 C2206.1,573.3 2207.1,573.6 2208.1,573.9 C2209.1,574.3 2210.1,574.6 2211.1,574.9 C2212.1,575.2 2213.1,575.5 2214.1,575.9 C2215.1,576.2 2216.1,576.5 2217.1,576.8 C2218.1,577.2 2219.1,577.5 2220.1,577.8 C2221.1,578.2 2222.1,578.5 2223.1,578.9 C2224.1,579.2 2225.1,579.5 2226.1,579.9 C2227.1,580.2 2228.1,580.6 2229.1,580.9 C2230.1,581.3 2231.1,581.6 2232.1,582.0 C2233.1,582.3 2234.1,582.7 2235.1,583.1 C2236.1,583.4 2237.1,583.8 2238.1,584.1 C2239.1,584.5 2240.1,584.9 2241.1,585.2 C2242.1,585.6 2243.1,585.9 2244.1,586.3 C2245.1,586.7 2246.1,587.0 2247.1,587.4 C2248.1,587.7 2249.1,588.1 2250.1,588.4 C2251.1,588.8 2252.1,589.2 2253.1,589.5 C2254.1,589.9 2255.1,590.2 2256.1,590.6 C2257.1,590.9 2258.1,591.3 2259.1,591.6 C2260.1,591.9 2261.1,592.3 2262.1,592.6 C2263.1,593.0 2264.1,593.3 2265.1,593.6 C2266.1,594.0 2267.1,594.3 2268.1,594.6 C2269.1,594.9 2270.1,595.3 2271.1,595.6 C2272.1,595.9 2273.1,596.2 2274.1,596.5 C2275.1,596.8 2276.1,597.1 2277.1,597.4 C2278.1,597.7 2279.1,598.0 2280.1,598.3 C2281.1,598.6 2282.1,598.8 2283.1,599.1 C2284.1,599.4 2285.1,599.6 2286.1,599.9 C2287.1,600.2 2288.1,600.4 2289.1,600.7 C2290.1,600.9 2291.1,601.1 2292.1,601.4 C2293.1,601.6 2294.1,601.8 2295.1,602.0 C2296.1,602.3 2297.1,602.5 2298.1,602.7 C2299.1,602.9 2300.1,603.1 2301.1,603.3 C2302.1,603.5 2303.1,603.7 2304.1,603.9 C2305.1,604.1 2306.1,604.2 2307.1,604.4 C2308.1,604.6 2309.1,604.8 2310.1,604.9 C2311.1,605.1 2312.1,605.2 2313.1,605.4 C2314.1,605.6 2315.1,605.7 2316.1,605.9 C2317.1,606.0 2318.1,606.2 2319.1,606.3 C2320.1,606.4 2321.1,606.6 2322.1,606.7 C2323.1,606.9 2324.1,607.0 2325.1,607.1 C2326.1,607.2 2327.1,607.4 2328.1,607.5 C2329.1,607.6 2330.1,607.7 2331.1,607.8 C2332.1,608.0 2333.1,608.1 2334.1,608.2 C2335.1,608.3 2336.1,608.4 2337.1,608.5 C2338.1,608.6 2339.1,608.7 2340.1,608.8 C2341.1,609.0 2342.1,609.1 2343.1,609.2 C2344.1,609.3 2345.1,609.4 2346.1,609.5 C2347.1,609.6 2348.1,609.7 2349.1,609.8 C2350.1,609.9 2351.1,610.0 2352.1,610.0 C2353.1,610.1 2354.1,610.2 2355.1,610.3 C2356.1,610.4 2357.1,610.5 2358.1,610.6 C2359.1,610.7 2360.1,610.8 2361.1,610.9 C2362.1,611.0 2363.1,611.1 2364.1,611.2 C2365.1,611.3 2366.1,611.4 2367.1,611.4 C2368.1,611.5 2369.1,611.6 2370.1,611.7 C2371.1,611.8 2372.1,611.9 2373.1,612.0 C2374.1,612.1 2375.1,612.1 2376.1,612.2 C2377.1,612.3 2378.1,612.4 2379.1,612.5 C2380.1,612.6 2381.1,612.7 2382.1,612.7 C2383.1,612.8 2384.1,612.9 2385.1,613.0 C2386.1,613.1 2387.1,613.2 2388.1,613.3 C2389.1,613.3 2390.1,613.4 2391.1,613.5 C2392.1,613.6 2393.1,613.7 2394.1,613.8 C2395.1,613.8 2396.1,613.9 2397.1,614.0 C2398.1,614.1 2399.1,614.2 2400.1,614.3 C2401.1,614.4 2402.1,614.4 2403.1,614.5 C2404.1,614.6 2405.1,614.7 2406.1,614.8 C2407.1,614.9 2408.1,615.0 2409.1,615.0 C2410.1,615.1 2411.1,615.2 2412.1,615.3 C2413.1,615.4 2414.1,615.5 2415.1,615.6 C2416.1,615.6 2417.1,615.7 2418.1,615.8 C2419.1,615.9 2420.1,616.0 2421.1,616.1 C2422.1,616.2 2423.1,616.3 2424.1,616.4 C2425.1,616.4 2426.1,616.5 2427.1,616.6 C2428.1,616.7 2429.1,616.8 2430.1,616.9 C2431.1,617.0 2432.1,617.1 2433.1,617.2 C2434.1,617.3 2435.1,617.4 2436.1,617.5 C2437.1,617.6 2438.5,617.7 2439.0,617.8" stroke="#fe7f27"/>
<path d="M273.0,63.5 C273.5,63.5 275.0,63.5 276.0,63.5 C277.0,63.5 278.0,63.5 279.0,63.5 C280.0,63.5 281.0,63.5 282.0,63.5 C283.0,63.5 284.0,63.5 285.0,63.5 C286.0,63.5 287.0,63.5 288.0,63.5 C289.0,63.5 290.0,63.5 291.0,63.5 C292.0,63.5 293.0,63.5 294.0,63.5 C295.0,63.5 296.0,63.5 297.0,63.5 C298.0,63.5 299.0,63.5 300.0,63.5 C301.0,63.6 302.0,63.6 303.0,63.6 C304.0,63.6 305.0,63.6 306.0,63.6 C307.0,63.6 308.0,63.6 309.0,63.6 C310.0,63.6 311.0,63.6 312.0,63.6 C313.0,63.7 314.0,63.7 315.0,63.7 C316.0,63.7 317.0,63.7 318.0,63.7 C319.0,63.7 320.0,63.7 321.0,63.8 C322.0,63.8 323.0,63.8 324.0,63.8 C325.0,63.8 326.0,63.8 327.0,63.8 C328.0,63.9 329.0,63.9 330.0,63.9 C331.0,63.9 332.0,63.9 333.0,63.9 C334.0,64.0 335.0,64.0 336.0,64.0 C337.0,64.0 338.0,64.0 339.0,64.0 C340.0,64.1 341.0,64.1 342.0,64.1 C343.0,64.1 344.0,64.1 345.0,64.2 C346.0,64.2 347.0,64.2 348.0,64.2 C349.0,64.3 350.0,64.3 351.0,64.3 C352.0,64.3 353.0,64.4 354.0,64.4 C355.0,64.4 356.0,64.4 357.0,64.5 C358.0,64.5 359.0,64.5 360.0,64.5 C361.0,64.6 362.0,64.6 363.0,64.6 C364.0,64.6 365.0,64.7 366.0,64.7 C367.0,64.7 368.0,64.7 369.0,64.8 C370.0,64.8 371.0,64.8 372.0,64.9 C373.0,64.9 374.0,64.9 375.0,64.9 C376.0,65.0 377.0,65.0 378.0,65.0 C379.0,65.1 380.0,65.1 381.0,65.1 C382.0,65.2 383.0,65.2 384.0,65.2 C385.0,65.3 386.0,65.3 387.0,65.3 C388.0,65.4 389.0,65.4 390.0,65.4 C391.0,65.5 392.0,65.5 393.0,65.5 C394.0,65.6 395.0,65.6 396.0,65.6 C397.0,65.7 398.0,65.7 399.0,65.7 C400.0,65.8 401.0,65.8 402.0,65.9 C403.0,65.9 404.0,65.9 405.0,66.0 C406.0,66.0 407.0,66.0 408.0,66.1 C409.0,66.1 410.0,66.2 411.0,66.2 C412.0,66.2 413.0,66.3 414.0,66.3 C415.0,66.4 416.0,66.4 417.0,66.4 C418.0,66.5 419.0,66.5 420.0,66.6 C421.0,66.6 422.0,66.6 423.0,66.7 C424.0,66.7 425.0,66.8 426.0,66.8 C427.0,66.8 428.0,66.9 429.0,66.9 C430.0,67.0 431.0,67.0 432.0,67.0 C433.0,67.1 434.0,67.1 435.0,67.2 C436.0,67.2 437.0,67.3 438.0,67.3 C439.0,67.4 440.0,67.4 441.0,67.4 C442.0,67.5 443.0,67.5 444.0,67.6 C445.0,67.6 446.0,67.7 447.0,67.7 C448.0,67.8 449.0,67.8 450.0,67.8 C451.0,67.9 452.0,67.9 453.0,68.0 C454.0,68.0 455.0,68.1 456.0,68.1 C457.0,68.2 458.0,68.2 459.0,68.3 C460.0,68.3 461.0,68.4 462.0,68.4 C463.0,68.4 464.0,68.5 465.0,68.5 C466.0,68.6 467.0,68.6 468.0,68.7 C469.0,68.7 470.0,68.8 471.0,68.8 C472.0,68.9 473.0,68.9 474.0,69.0 C475.0,69.0 476.0,69.1 477.0,69.1 C478.0,69.2 479.0,69.2 480.0,69.3 C481.0,69.3 482.0,69.4 483.0,69.4 C484.0,69.5 485.0,69.5 486.0,69.6 C487.0,69.6 488.0,69.7 489.0,69.7 C490.0,69.8 491.0,69.8 492.0,69.9 C493.0,69.9 494.0,70.0 495.0,70.0 C496.0,70.1 497.0,70.1 498.0,70.2 C499.0,70.2 500.0,70.3 501.0,70.3 C502.0,70.4 503.0,70.4 504.0,70.5 C505.0,70.5 506.0,70.6 507.0,70.6 C508.0,70.7 509.0,70.7 510.0,70.8 C511.0,70.8 512.0,70.9 513.0,70.9 C514.0,71.0 515.0,71.0 516.0,71.1 C517.0,71.1 518.0,71.2 519.0,71.2 C520.0,71.3 521.0,71.3 522.0,71.4 C523.0,71.5 524.0,71.5 525.0,71.6 C526.0,71.6 527.0,71.7 528.0,71.7 C529.0,71.8 530.0,71.8 531.0,71.9 C532.0,71.9 533.0,72.0 534.0,72.0 C535.0,72.1 536.0,72.1 537.0,72.2 C538.0,72.2 539.0,72.3 540.0,72.3 C541.0,72.4 542.0,72.4 543.0,72.5 C544.0,72.5 545.0,72.6 546.0,72.6 C547.0,72.7 548.0,72.8 549.0,72.8 C550.0,72.9 551.0,72.9 552.0,73.0 C553.0,73.0 554.0,73.1 555.0,73.1 C556.0,73.2 557.0,73.2 558.0,73.3 C559.0,73.3 560.0,73.4 561.0,73.4 C562.0,73.5 563.0,73.5 564.0,73.6 C565.0,73.6 566.0,73.7 567.0,73.7 C568.0,73.8 569.0,73.8 570.0,73.9 C571.0,73.9 572.0,74.0 573.0,74.0 C574.0,74.1 575.0,74.1 576.0,74.2 C577.0,74.2 578.0,74.3 579.0,74.4 C580.0,74.4 581.0,74.5 582.0,74.5 C583.0,74.6 584.0,74.6 585.0,74.7 C586.0,74.7 587.0,74.8 588.0,74.8 C589.0,74.9 590.0,74.9 591.0,75.0 C592.0,75.0 593.0,75.1 594.0,75.1 C595.0,75.2 596.0,75.2 597.0,75.3 C598.0,75.3 599.0,75.4 600.0,75.4 C601.0,75.4 602.0,75.5 603.0,75.5 C604.0,75.6 605.0,75.6 606.0,75.7 C607.0,75.7 608.0,75.8 609.0,75.8 C610.0,75.9 611.0,75.9 612.0,76.0 C613.0,76.0 614.0,76.1 615.0,76.1 C616.0,76.2 617.0,76.2 618.0,76.3 C619.0,76.3 620.0,76.3 621.0,76.4 C622.0,76.4 623.0,76.5 624.0,76.5 C625.0,76.6 626.0,76.6 627.0,76.7 C628.0,76.7 629.0,76.7 630.0,76.8 C631.0,76.8 632.0,76.9 633.0,76.9 C634.0,77.0 635.0,77.0 636.0,77.0 C637.0,77.1 638.0,77.1 639.0,77.2 C640.0,77.2 641.0,77.2 642.0,77.3 C643.0,77.3 644.0,77.4 645.0,77.4 C646.0,77.4 647.0,77.5 648.0,77.5 C649.0,77.6 650.0,77.6 651.0,77.6 C652.0,77.7 653.0,77.7 654.0,77.7 C655.0,77.8 656.0,77.8 657.0,77.8 C658.0,77.9 659.0,77.9 660.0,78.0 C661.0,78.0 662.0,78.0 663.0,78.1 C664.0,78.1 665.0,78.1 666.0,78.1 C667.0,78.2 668.0,78.2 669.0,78.2 C670.0,78.3 671.0,78.3 672.0,78.3 C673.0,78.4 674.0,78.4 675.0,78.4 C676.0,78.4 677.0,78.5 678.0,78.5 C679.0,78.5 680.0,78.6 681.0,78.6 C682.0,78.6 683.0,78.6 684.0,78.7 C685.0,78.7 686.0,78.7 687.0,78.7 C688.0,78.8 689.0,78.8 690.0,78.8 C691.0,78.8 692.0,78.8 693.0,78.9 C694.0,78.9 695.0,78.9 696.0,78.9 C697.0,78.9 698.0,79.0 699.0,79.0 C700.0,79.0 701.0,79.0 702.0,79.0 C703.0,79.0 704.0,79.1 705.0,79.1 C706.0,79.1 707.0,79.1 708.0,79.1 C709.0,79.1 710.0,79.1 711.0,79.1 C712.0,79.2 713.0,79.2 714.0,79.2 C715.0,79.2 716.0,79.2 717.0,79.2 C718.0,79.2 719.0,79.2 720.0,79.2 C721.0,79.2 722.0,79.2 723.0,79.2 C724.0,79.3 725.0,79.3 726.0,79.3 C727.0,79.3 728.0,79.3 729.0,79.3 C730.0,79.3 731.0,79.3 732.0,79.3 C733.0,79.3 734.0,79.3 735.0,79.3 C736.0,79.3 737.0,79.3 738.0,79.2 C739.0,79.2 740.0,79.2 741.0,79.2 C742.0,79.2 743.0,79.2 744.0,79.2 C745.0,79.2 746.0,79.2 747.0,79.2 C748.0,79.2 749.0,79.2 750.0,79.2 C751.0,79.2 752.0,79.1 753.0,79.1 C754.0,79.1 755.0,79.1 756.0,79.1 C757.0,79.1 758.0,79.1 759.0,79.1 C760.0,79.1 761.0,79.0 762.0,79.0 C763.0,79.0 764.0,79.0 765.0,79.0 C766.0,79.0 767.0,79.0 768.0,79.0 C769.0,79.0 770.0,79.0 771.0,78.9 C772.0,78.9 773.0,78.9 774.0,78.9 C775.0,78.9 776.0,78.9 777.0,78.9 C778.0,78.9 779.0,78.9 780.0,78.9 C781.0,78.9 782.0,78.8 783.0,78.8 C784.0,78.8 785.0,78.8 786.0,78.8 C787.0,78.8 788.0,78.8 789.0,78.8 C790.0,78.8 791.0,78.8 792.0,78.8 C793.0,78.8 794.0,78.8 795.0,78.8 C796.0,78.8 797.0,78.8 798.0,78.8 C799.0,78.8 800.0,78.8 801.0,78.8 C802.0,78.8 803.0,78.9 804.0,78.9 C805.0,78.9 806.0,78.9 807.0,78.9 C808.0,78.9 809.0,78.9 810.0,78.9 C811.0,79.0 812.0,79.0 813.0,79.0 C814.0,79.0 815.0,79.0 816.0,79.1 C817.0,79.1 818.0,79.1 819.0,79.1 C820.0,79.2 821.0,79.2 822.0,79.2 C823.0,79.2 824.0,79.3 825.0,79.3 C826.0,79.3 827.0,79.4 828.0,79.4 C829.0,79.5 830.0,79.5 831.0,79.5 C832.0,79.6 833.0,79.6 834.0,79.7 C835.0,79.7 836.0,79.8 837.0,79.8 C838.0,79.9 839.0,80.0 840.0,80.0 C841.0,80.1 842.0,80.1 843.0,80.2 C844.0,80.3 845.0,80.3 846.0,80.4 C847.0,80.5 848.0,80.5 849.0,80.6 C850.0,80.7 851.0,80.8 852.0,80.9 C853.0,80.9 854.0,81.0 855.0,81.1 C856.0,81.2 857.0,81.3 858.0,81.4 C859.0,81.5 860.0,81.6 861.0,81.7 C862.0,81.8 863.0,81.9 864.0,82.0 C865.0,82.1 866.0,82.2 867.0,82.3 C868.0,82.5 869.0,82.6 870.0,82.7 C871.0,82.8 872.0,83.0 873.0,83.1 C874.0,83.2 875.0,83.4 876.0,83.5 C877.0,83.6 878.0,83.8 879.0,83.9 C880.0,84.1 881.0,84.2 882.0,84.4 C883.0,84.5 884.0,84.7 885.0,84.9 C886.0,85.0 887.0,85.2 888.0,85.4 C889.0,85.5 890.0,85.7 891.0,85.9 C892.0,86.1 893.0,86.3 894.0,86.4 C895.0,86.6 896.0,86.8 897.0,87.0 C898.0,87.2 899.0,87.4 900.0,87.6 C901.0,87.8 902.0,88.0 903.0,88.3 C904.0,88.5 905.0,88.7 906.0,88.9 C907.0,89.1 908.0,89.4 909.0,89.6 C910.0,89.8 911.0,90.1 912.0,90.3 C913.0,90.5 914.0,90.8 915.0,91.0 C916.0,91.3 917.0,91.5 918.0,91.8 C919.0,92.0 920.0,92.3 921.0,92.6 C922.0,92.8 923.0,93.1 924.0,93.4 C925.0,93.6 926.0,93.9 927.0,94.2 C928.0,94.5 929.0,94.8 930.0,95.1 C931.0,95.4 932.0,95.7 933.0,96.0 C934.0,96.3 935.0,96.6 936.0,96.9 C937.0,97.2 938.0,97.5 939.0,97.8 C940.0,98.1 941.0,98.5 942.0,98.8 C943.0,99.1 944.0,99.4 945.0,99.8 C946.0,100.1 947.0,100.5 948.0,100.8 C949.0,101.1 950.0,101.5 951.0,101.8 C952.0,102.2 953.0,102.6 954.0,102.9 C955.0,103.3 956.0,103.7 957.0,104.0 C958.0,104.4 959.0,104.8 960.0,105.2 C961.0,105.5 962.0,105.9 963.0,106.3 C964.0,106.7 965.0,107.1 966.0,107.5 C967.0,107.9 968.0,108.3 969.0,108.7 C970.0,109.1 971.0,109.5 972.0,110.0 C973.0,110.4 974.0,110.8 975.0,111.2 C976.0,111.7 977.0,112.1 978.0,112.5 C979.0,113.0 980.0,113.4 981.0,113.9 C982.0,114.3 983.0,114.8 984.0,115.2 C985.0,115.7 986.0,116.1 987.0,116.6 C988.0,117.1 989.0,117.5 990.0,118.0 C991.0,118.5 992.0,119.0 993.0,119.5 C994.0,119.9 995.0,120.4 996.0,120.9 C997.0,121.4 998.0,121.9 999.0,122.4 C1000.0,122.9 1001.0,123.4 1002.0,124.0 C1003.0,124.5 1004.0,125.0 1005.0,125.5 C1006.0,126.0 1007.0,126.6 1008.0,127.1 C1009.0,127.6 1010.0,128.2 1011.0,128.7 C1012.0,129.3 1013.0,129.8 1014.0,130.4 C1015.0,130.9 1016.0,131.5 1017.0,132.0 C1018.0,132.6 1019.0,133.2 1020.0,133.8 C1021.0,134.3 1022.0,134.9 1023.0,135.5 C1024.0,136.1 1025.0,136.7 1026.0,137.3 C1027.0,137.9 1028.0,138.4 1029.0,139.1 C1030.0,139.7 1031.0,140.3 1032.0,140.9 C1033.0,141.5 1034.0,142.1 1035.0,142.7 C1036.0,143.4 1037.0,144.0 1038.0,144.6 C1039.0,145.3 1040.0,145.9 1041.0,146.5 C1042.0,147.2 1043.0,147.8 1044.0,148.5 C1045.0,149.1 1046.0,149.8 1047.0,150.5 C1048.0,151.1 1049.0,151.8 1050.0,152.5 C1051.0,153.2 1052.0,153.8 1053.0,154.5 C1054.0,155.2 1055.0,155.9 1056.0,156.6 C1057.0,157.3 1058.0,158.0 1059.0,158.7 C1060.0,159.4 1061.0,160.1 1062.0,160.8 C1063.0,161.6 1064.0,162.3 1065.0,163.0 C1066.0,163.7 1067.0,164.5 1068.0,165.2 C1069.0,165.9 1070.0,166.7 1071.0,167.4 C1072.0,168.2 1073.0,168.9 1074.0,169.7 C1075.0,170.5 1076.0,171.2 1077.0,172.0 C1078.0,172.8 1079.0,173.5 1080.0,174.3 C1081.0,175.1 1082.0,175.9 1083.0,176.7 C1084.0,177.5 1085.0,178.3 1086.0,179.1 C1087.0,179.9 1088.0,180.7 1089.0,181.5 C1090.0,182.3 1091.0,183.1 1092.0,184.0 C1093.0,184.8 1094.0,185.6 1095.0,186.4 C1096.0,187.3 1097.0,188.1 1098.0,189.0 C1099.0,189.8 1100.0,190.7 1101.0,191.5 C1102.0,192.4 1103.0,193.2 1104.0,194.1 C1105.0,195.0 1106.0,195.9 1107.0,196.7 C1108.0,197.6 1109.0,198.5 1110.0,199.4 C1111.0,200.3 1112.0,201.2 1113.0,202.1 C1114.0,203.0 1115.0,203.9 1116.0,204.8 C1117.0,205.7 1118.0,206.6 1119.0,207.5 C1120.0,208.5 1121.0,209.4 1122.0,210.3 C1123.0,211.2 1124.0,212.2 1125.0,213.1 C1126.0,214.0 1127.0,214.9 1128.0,215.9 C1129.0,216.8 1130.0,217.7 1131.0,218.7 C1132.0,219.6 1133.0,220.6 1134.0,221.5 C1135.0,222.4 1136.0,223.4 1137.0,224.3 C1138.0,225.2 1139.0,226.2 1140.0,227.1 C1141.0,228.0 1142.0,229.0 1143.0,229.9 C1144.0,230.8 1145.0,231.7 1146.0,232.7 C1147.0,233.6 1148.0,234.5 1149.0,235.4 C1150.0,236.3 1151.0,237.3 1152.0,238.2 C1153.0,239.1 1154.0,240.0 1155.0,240.9 C1156.0,241.8 1157.0,242.7 1158.0,243.6 C1159.0,244.4 1160.0,245.3 1161.0,246.2 C1162.0,247.1 1163.0,247.9 1164.0,248.8 C1165.0,249.7 1166.0,250.5 1167.0,251.4 C1168.0,252.2 1169.0,253.1 1170.0,253.9 C1171.0,254.7 1172.0,255.5 1173.0,256.3 C1174.0,257.2 1175.0,258.0 1176.0,258.7 C1177.0,259.5 1178.0,260.3 1179.0,261.1 C1180.0,261.9 1181.0,262.6 1182.0,263.4 C1183.0,264.1 1184.0,264.8 1185.0,265.6 C1186.0,266.3 1187.0,267.0 1188.0,267.7 C1189.0,268.4 1190.0,269.1 1191.0,269.7 C1192.0,270.4 1193.0,271.1 1194.0,271.7 C1195.0,272.4 1196.0,273.0 1197.0,273.6 C1198.0,274.2 1199.0,274.8 1200.0,275.4 C1201.0,276.0 1202.0,276.5 1203.0,277.1 C1204.0,277.6 1205.0,278.1 1206.0,278.7 C1207.0,279.2 1208.0,279.7 1209.0,280.1 C1210.0,280.6 1211.0,281.1 1212.0,281.5 C1213.0,282.0 1214.0,282.4 1215.0,282.8 C1216.0,283.3 1217.0,283.7 1218.0,284.1 C1219.0,284.4 1220.0,284.8 1221.0,285.2 C1222.0,285.6 1223.0,285.9 1224.0,286.3 C1225.0,286.6 1226.0,287.0 1227.0,287.3 C1228.0,287.6 1229.0,288.0 1230.0,288.3 C1231.0,288.6 1232.0,288.9 1233.0,289.2 C1234.0,289.5 1235.0,289.8 1236.0,290.1 C1237.0,290.4 1238.0,290.7 1239.0,291.0 C1240.0,291.2 1241.0,291.5 1242.0,291.8 C1243.0,292.1 1244.0,292.4 1245.0,292.6 C1246.0,292.9 1247.0,293.2 1248.0,293.5 C1249.0,293.7 1250.0,294.0 1251.0,294.3 C1252.0,294.6 1253.0,294.9 1254.0,295.1 C1255.0,295.4 1256.0,295.7 1257.0,296.0 C1258.0,296.3 1259.0,296.6 1260.0,296.9 C1261.0,297.2 1262.0,297.5 1263.0,297.8 C1264.0,298.1 1265.0,298.4 1266.0,298.7 C1267.0,299.0 1268.0,299.3 1269.0,299.6 C1270.0,299.9 1271.0,300.2 1272.0,300.5 C1273.0,300.8 1274.0,301.1 1275.0,301.5 C1276.0,301.8 1277.0,302.1 1278.0,302.4 C1279.0,302.7 1280.0,303.0 1281.0,303.3 C1282.0,303.6 1283.0,304.0 1284.0,304.3 C1285.0,304.6 1286.0,304.9 1287.0,305.2 C1288.0,305.5 1289.0,305.8 1290.0,306.1 C1291.0,306.4 1292.0,306.7 1293.0,307.0 C1294.0,307.4 1295.0,307.7 1296.0,308.0 C1297.0,308.3 1298.0,308.6 1299.0,308.9 C1300.0,309.2 1301.0,309.5 1302.0,309.8 C1303.0,310.1 1304.0,310.4 1305.0,310.7 C1306.0,311.0 1307.0,311.3 1308.0,311.6 C1309.0,311.9 1310.0,312.2 1311.0,312.5 C1312.0,312.8 1313.0,313.1 1314.0,313.4 C1315.0,313.7 1316.0,314.0 1317.0,314.3 C1318.0,314.6 1319.0,314.9 1320.0,315.2 C1321.0,315.5 1322.0,315.8 1323.0,316.1 C1324.0,316.4 1325.0,316.7 1326.0,317.0 C1327.0,317.3 1328.0,317.6 1329.0,317.9 C1330.0,318.2 1331.0,318.5 1332.0,318.8 C1333.0,319.1 1334.0,319.4 1335.0,319.7 C1336.0,320.0 1337.0,320.3 1338.0,320.5 C1339.0,320.8 1340.0,321.1 1341.0,321.4 C1342.0,321.7 1343.0,322.0 1344.0,322.3 C1345.0,322.6 1346.0,322.9 1347.0,323.2 C1348.0,323.5 1349.0,323.8 1350.0,324.1 C1351.0,324.4 1352.0,324.6 1353.0,324.9 C1354.0,325.2 1355.0,325.5 1356.0,325.8 C1357.0,326.1 1358.0,326.4 1359.0,326.7 C1360.0,327.0 1361.0,327.3 1362.0,327.5 C1363.0,327.8 1364.0,328.1 1365.0,328.4 C1366.0,328.7 1367.0,329.0 1368.0,329.3 C1369.0,329.6 1370.0,329.9 1371.0,330.1 C1372.0,330.4 1373.0,330.7 1374.0,331.0 C1375.0,331.3 1376.0,331.6 1377.0,331.9 C1378.0,332.2 1379.0,332.4 1380.0,332.7 C1381.0,333.0 1382.0,333.3 1383.0,333.6 C1384.0,333.9 1385.0,334.2 1386.0,334.4 C1387.0,334.7 1388.0,335.0 1389.0,335.3 C1390.0,335.6 1391.0,335.9 1392.0,336.2 C1393.0,336.4 1394.0,336.7 1395.0,337.0 C1396.0,337.3 1397.0,337.6 1398.0,337.9 C1399.0,338.2 1400.0,338.4 1401.0,338.7 C1402.0,339.0 1403.0,339.3 1404.0,339.6 C1405.0,339.9 1406.0,340.2 1407.0,340.4 C1408.0,340.7 1409.0,341.0 1410.0,341.3 C1411.0,341.6 1412.0,341.9 1413.0,342.2 C1414.0,342.4 1415.0,342.7 1416.0,343.0 C1417.0,343.3 1418.0,343.6 1419.0,343.9 C1420.0,344.2 1421.0,344.4 1422.0,344.7 C1423.0,345.0 1424.0,345.3 1425.0,345.6 C1426.0,345.9 1427.0,346.1 1428.0,346.4 C1429.0,346.7 1430.0,347.0 1431.0,347.3 C1432.0,347.6 1433.0,347.9 1434.0,348.1 C1435.0,348.4 1436.0,348.7 1437.0,349.0 C1438.0,349.3 1439.0,349.6 1440.0,349.9 C1441.0,350.1 1442.0,350.4 1443.0,350.7 C1444.0,351.0 1445.0,351.3 1446.0,351.6 C1447.0,351.9 1448.0,352.2 1449.0,352.4 C1450.0,352.7 1451.0,353.0 1452.0,353.3 C1453.0,353.6 1454.0,353.9 1455.0,354.2 C1456.0,354.5 1457.0,354.7 1458.0,355.0 C1459.0,355.3 1460.0,355.6 1461.0,355.9 C1462.0,356.2 1463.0,356.5 1464.0,356.8 C1465.0,357.0 1466.0,357.3 1467.0,357.6 C1468.0,357.9 1469.0,358.2 1470.0,358.5 C1471.0,358.8 1472.0,359.1 1473.0,359.4 C1474.0,359.6 1475.0,359.9 1476.0,360.2 C1477.0,360.5 1478.0,360.8 1479.0,361.1 C1480.0,361.4 1481.0,361.7 1482.0,361.9 C1483.0,362.2 1484.0,362.5 1485.0,362.8 C1486.0,363.1 1487.0,363.4 1488.0,363.7 C1489.0,364.0 1490.0,364.2 1491.0,364.5 C1492.0,364.8 1493.0,365.1 1494.0,365.4 C1495.0,365.7 1496.0,366.0 1497.0,366.2 C1498.0,366.5 1499.0,366.8 1500.0,367.1 C1501.0,367.4 1502.0,367.7 1503.0,367.9 C1504.0,368.2 1505.0,368.5 1506.0,368.8 C1507.0,369.1 1508.0,369.4 1509.0,369.6 C1510.0,369.9 1511.0,370.2 1512.0,370.5 C1513.0,370.7 1514.0,371.0 1515.0,371.3 C1516.0,371.6 1517.0,371.9 1518.0,372.1 C1519.0,372.4 1520.0,372.7 1521.0,373.0 C1522.0,373.2 1523.0,373.5 1524.0,373.8 C1525.0,374.1 1526.0,374.3 1527.0,374.6 C1528.0,374.9 1529.0,375.1 1530.0,375.4 C1531.0,375.7 1532.0,375.9 1533.0,376.2 C1534.0,376.5 1535.0,376.7 1536.0,377.0 C1537.0,377.3 1538.0,377.5 1539.0,377.8 C1540.0,378.1 1541.0,378.3 1542.0,378.6 C1543.0,378.8 1544.0,379.1 1545.0,379.4 C1546.0,379.6 1547.0,379.9 1548.0,380.1 C1549.0,380.4 1550.0,380.7 1551.0,380.9 C1552.0,381.2 1553.0,381.4 1554.0,381.7 C1555.0,381.9 1556.0,382.2 1557.0,382.4 C1558.0,382.7 1559.0,382.9 1560.0,383.2 C1561.0,383.4 1562.0,383.6 1563.0,383.9 C1564.0,384.1 1565.0,384.4 1566.0,384.6 C1567.0,384.8 1568.0,385.1 1569.0,385.3 C1570.0,385.6 1571.0,385.8 1572.0,386.0 C1573.0,386.3 1574.0,386.5 1575.0,386.7 C1576.0,387.0 1577.0,387.2 1578.0,387.4 C1579.0,387.6 1580.0,387.9 1581.0,388.1 C1582.0,388.3 1583.0,388.5 1584.0,388.8 C1585.0,389.0 1586.0,389.2 1587.0,389.4 C1588.0,389.6 1589.0,389.8 1590.0,390.0 C1591.0,390.3 1592.0,390.5 1593.0,390.7 C1594.0,390.9 1595.0,391.1 1596.0,391.3 C1597.0,391.5 1598.0,391.7 1599.0,391.9 C1600.0,392.1 1601.0,392.3 1602.0,392.5 C1603.0,392.7 1604.0,392.9 1605.0,393.1 C1606.0,393.3 1607.0,393.5 1608.0,393.7 C1609.0,393.9 1610.0,394.0 1611.0,394.2 C1612.0,394.4 1613.0,394.6 1614.0,394.8 C1615.0,395.0 1616.0,395.1 1617.0,395.3 C1618.0,395.5 1619.0,395.7 1620.0,395.8 C1621.0,396.0 1622.0,396.2 1623.0,396.4 C1624.0,396.5 1625.0,396.7 1626.0,396.9 C1627.0,397.0 1628.0,397.2 1629.0,397.4 C1630.0,397.5 1631.0,397.7 1632.0,397.9 C1633.0,398.0 1634.0,398.2 1635.0,398.3 C1636.0,398.5 1637.0,398.6 1638.0,398.8 C1639.0,398.9 1640.0,399.1 1641.0,399.3 C1642.0,399.4 1643.0,399.6 1644.0,399.7 C1645.0,399.9 1646.0,400.0 1647.0,400.1 C1648.0,400.3 1649.0,400.4 1650.0,400.6 C1651.0,400.7 1652.0,400.9 1653.0,401.0 C1654.0,401.1 1655.0,401.3 1656.0,401.4 C1657.0,401.6 1658.0,401.7 1659.0,401.8 C1660.0,402.0 1661.0,402.1 1662.0,402.2 C1663.0,402.4 1664.0,402.5 1665.0,402.6 C1666.0,402.8 1667.0,402.9 1668.0,403.0 C1669.0,403.1 1670.0,403.3 1671.0,403.4 C1672.0,403.5 1673.0,403.7 1674.0,403.8 C1675.0,403.9 1676.0,404.0 1677.0,404.1 C1678.0,404.3 1679.0,404.4 1680.0,404.5 C1681.0,404.6 1682.0,404.8 1683.0,404.9 C1684.0,405.0 1685.0,405.1 1686.0,405.2 C1687.0,405.3 1688.0,405.5 1689.0,405.6 C1690.0,405.7 1691.0,405.8 1692.0,405.9 C1693.0,406.0 1694.0,406.1 1695.0,406.3 C1696.0,406.4 1697.0,406.5 1698.0,406.6 C1699.0,406.7 1700.0,406.8 1701.0,406.9 C1702.0,407.0 1703.0,407.2 1704.0,407.3 C1705.0,407.4 1706.0,407.5 1707.0,407.6 C1708.0,407.7 1709.0,407.8 1710.0,407.9 C1711.0,408.0 1712.0,408.1 1713.0,408.2 C1714.0,408.3 1715.0,408.4 1716.0,408.6 C1717.0,408.7 1718.0,408.8 1719.0,408.9 C1720.0,409.0 1721.0,409.1 1722.0,409.2 C1723.0,409.3 1724.0,409.4 1725.0,409.5 C1726.0,409.6 1727.0,409.7 1728.0,409.8 C1729.0,409.9 1730.0,410.0 1731.0,410.1 C1732.0,410.2 1733.0,410.3 1734.0,410.4 C1735.0,410.5 1736.0,410.6 1737.0,410.7 C1738.0,410.8 1739.0,410.9 1740.0,411.0 C1741.0,411.1 1742.0,411.2 1743.0,411.4 C1744.0,411.5 1745.0,411.6 1746.0,411.7 C1747.0,411.8 1748.0,411.9 1749.0,412.0 C1750.0,412.1 1751.0,412.2 1752.0,412.3 C1753.0,412.4 1754.0,412.5 1755.0,412.6 C1756.0,412.7 1757.0,412.8 1758.0,412.9 C1759.0,413.0 1760.0,413.1 1761.0,413.2 C1762.0,413.3 1763.0,413.4 1764.0,413.5 C1765.0,413.6 1766.0,413.7 1767.0,413.8 C1768.0,413.9 1769.0,414.1 1770.0,414.2 C1771.0,414.3 1772.0,414.4 1773.0,414.5 C1774.0,414.6 1775.0,414.7 1776.0,414.8 C1777.0,414.9 1778.0,415.0 1779.0,415.1 C1780.0,415.2 1781.0,415.3 1782.0,415.4 C1783.0,415.5 1784.0,415.6 1785.0,415.8 C1786.0,415.9 1787.0,416.0 1788.0,416.1 C1789.0,416.2 1790.0,416.3 1791.0,416.4 C1792.0,416.5 1793.0,416.6 1794.0,416.7 C1795.0,416.8 1796.0,416.9 1797.0,417.0 C1798.0,417.2 1799.0,417.3 1800.0,417.4 C1801.0,417.5 1802.0,417.6 1803.0,417.7 C1804.0,417.8 1805.0,417.9 1806.0,418.0 C1807.0,418.1 1808.0,418.2 1809.0,418.3 C1810.0,418.5 1811.0,418.6 1812.0,418.7 C1813.0,418.8 1814.0,418.9 1815.0,419.0 C1816.0,419.1 1817.0,419.2 1818.0,419.3 C1819.0,419.5 1820.0,419.6 1821.0,419.7 C1822.0,419.8 1823.0,419.9 1824.0,420.0 C1825.0,420.1 1826.0,420.2 1827.0,420.3 C1828.0,420.4 1829.0,420.6 1830.0,420.7 C1831.0,420.8 1832.0,420.9 1833.0,421.0 C1834.0,421.1 1835.0,421.2 1836.0,421.3 C1837.0,421.5 1838.0,421.6 1839.0,421.7 C1840.0,421.8 1841.0,421.9 1842.0,422.0 C1843.0,422.1 1844.0,422.2 1845.0,422.4 C1846.0,422.5 1847.0,422.6 1848.0,422.7 C1849.0,422.8 1850.0,422.9 1851.0,423.0 C1852.0,423.2 1853.0,423.3 1854.0,423.4 C1855.0,423.5 1856.0,423.6 1857.0,423.7 C1858.0,423.8 1859.0,424.0 1860.0,424.1 C1861.0,424.2 1862.0,424.3 1863.0,424.4 C1864.0,424.5 1865.0,424.6 1866.0,424.8 C1867.0,424.9 1868.0,425.0 1869.0,425.1 C1870.0,425.2 1871.0,425.3 1872.0,425.5 C1873.0,425.6 1874.0,425.7 1875.0,425.8 C1876.0,425.9 1877.0,426.0 1878.0,426.2 C1879.0,426.3 1880.0,426.4 1881.0,426.5 C1882.0,426.6 1883.0,426.7 1884.0,426.9 C1885.0,427.0 1886.0,427.1 1887.0,427.2 C1888.0,427.3 1889.0,427.4 1890.0,427.6 C1891.0,427.7 1892.0,427.8 1893.0,427.9 C1894.0,428.0 1895.0,428.2 1896.0,428.3 C1897.0,428.4 1898.0,428.5 1899.0,428.6 C1900.0,428.8 1901.0,428.9 1902.0,429.0 C1903.0,429.1 1904.0,429.2 1905.0,429.3 C1906.0,429.5 1907.0,429.6 1908.0,429.7 C1909.0,429.8 1910.0,429.9 1911.0,430.1 C1912.0,430.2 1913.0,430.3 1914.0,430.4 C1915.0,430.6 1916.0,430.7 1917.0,430.8 C1918.0,430.9 1919.0,431.0 1920.0,431.2 C1921.0,431.3 1922.0,431.4 1923.0,431.5 C1924.0,431.6 1925.0,431.8 1926.0,431.9 C1927.0,432.0 1928.0,432.1 1929.0,432.3 C1930.0,432.4 1931.0,432.5 1932.0,432.6 C1933.0,432.7 1934.0,432.9 1935.0,433.0 C1936.0,433.1 1937.0,433.2 1938.0,433.4 C1939.0,433.5 1940.0,433.6 1941.0,433.7 C1942.0,433.8 1943.0,434.0 1944.0,434.1 C1945.0,434.2 1946.0,434.3 1947.0,434.5 C1948.0,434.6 1949.0,434.7 1950.0,434.8 C1951.0,435.0 1952.0,435.1 1953.0,435.2 C1954.0,435.3 1955.0,435.5 1956.0,435.6 C1957.0,435.7 1958.0,435.8 1959.0,436.0 C1960.0,436.1 1961.0,436.2 1962.0,436.3 C1963.0,436.5 1964.0,436.6 1965.0,436.7 C1966.0,436.8 1967.0,437.0 1968.0,437.1 C1969.0,437.2 1970.0,437.4 1971.0,437.5 C1972.0,437.6 1973.0,437.7 1974.0,437.9 C1975.0,438.0 1976.0,438.1 1977.0,438.2 C1978.0,438.4 1979.0,438.5 1980.0,438.6 C1981.0,438.8 1982.0,438.9 1983.0,439.0 C1984.0,439.1 1985.0,439.3 1986.0,439.4 C1987.0,439.5 1988.0,439.7 1989.0,439.8 C1990.0,439.9 1991.0,440.0 1992.0,440.2 C1993.0,440.3 1994.0,440.4 1995.0,440.6 C1996.0,440.7 1997.0,440.8 1998.0,441.0 C1999.0,441.1 2000.0,441.2 2001.0,441.4 C2002.0,441.5 2003.0,441.6 2004.0,441.8 C2005.0,441.9 2006.0,442.0 2007.0,442.2 C2008.0,442.3 2009.0,442.4 2010.0,442.6 C2011.0,442.7 2012.0,442.9 2013.0,443.0 C2014.0,443.1 2015.0,443.3 2016.0,443.4 C2017.0,443.5 2018.0,443.7 2019.0,443.8 C2020.0,444.0 2021.0,444.1 2022.0,444.3 C2023.0,444.4 2024.0,444.5 2025.0,444.7 C2026.0,444.8 2027.0,445.0 2028.0,445.1 C2029.0,445.3 2030.0,445.4 2031.0,445.6 C2032.0,445.7 2033.0,445.9 2034.0,446.0 C2035.0,446.2 2036.0,446.3 2037.0,446.5 C2038.0,446.6 2039.0,446.8 2040.0,446.9 C2041.0,447.1 2042.0,447.2 2043.0,447.4 C2044.0,447.5 2045.0,447.7 2046.0,447.8 C2047.0,448.0 2048.0,448.2 2049.0,448.3 C2050.0,448.5 2051.0,448.6 2052.0,448.8 C2053.0,449.0 2054.0,449.1 2055.0,449.3 C2056.0,449.5 2057.0,449.6 2058.0,449.8 C2059.0,450.0 2060.0,450.1 2061.0,450.3 C2062.0,450.5 2063.0,450.6 2064.0,450.8 C2065.0,451.0 2066.0,451.1 2067.0,451.3 C2068.0,451.5 2069.0,451.7 2070.0,451.8 C2071.0,452.0 2072.0,452.2 2073.0,452.4 C2074.0,452.6 2075.0,452.7 2076.0,452.9 C2077.0,453.1 2078.0,453.3 2079.0,453.5 C2080.0,453.7 2081.0,453.8 2082.0,454.0 C2083.0,454.2 2084.0,454.4 2085.0,454.6 C2086.0,454.8 2087.0,455.0 2088.0,455.2 C2089.0,455.4 2090.0,455.6 2091.0,455.8 C2092.0,456.0 2093.0,456.2 2094.0,456.4 C2095.0,456.6 2096.0,456.8 2097.0,457.0 C2098.0,457.2 2099.0,457.4 2100.0,457.6 C2101.0,457.8 2102.0,458.0 2103.0,458.2 C2104.0,458.4 2105.0,458.6 2106.0,458.8 C2107.0,459.1 2108.0,459.3 2109.0,459.5 C2110.0,459.7 2111.0,459.9 2112.0,460.1 C2113.0,460.4 2114.0,460.6 2115.0,460.8 C2116.0,461.0 2117.0,461.3 2118.0,461.5 C2119.0,461.7 2120.0,462.0 2121.0,462.2 C2122.0,462.4 2123.0,462.7 2124.0,462.9 C2125.0,463.1 2126.0,463.4 2127.0,463.6 C2128.0,463.8 2129.0,464.1 2130.0,464.3 C2131.0,464.6 2132.0,464.8 2133.0,465.1 C2134.0,465.3 2135.0,465.6 2136.0,465.8 C2137.0,466.1 2138.0,466.3 2139.0,466.6 C2140.0,466.9 2141.0,467.1 2142.0,467.4 C2143.0,467.6 2144.0,467.9 2145.0,468.2 C2146.0,468.4 2147.0,468.7 2148.0,469.0 C2149.0,469.2 2150.0,469.5 2151.0,469.8 C2152.0,470.1 2153.0,470.3 2154.0,470.6 C2155.0,470.9 2156.0,471.2 2157.0,471.5 C2158.0,471.8 2159.0,472.0 2160.0,472.3 C2161.0,472.6 2162.0,472.9 2163.0,473.2 C2164.0,473.5 2165.0,473.8 2166.0,474.1 C2167.0,474.4 2168.0,474.7 2169.0,475.0 C2170.0,475.3 2171.0,475.6 2172.0,475.9 C2173.0,476.2 2174.0,476.6 2175.0,476.9 C2176.0,477.2 2177.0,477.5 2178.0,477.8 C2179.0,478.1 2180.0,478.5 2181.0,478.8 C2182.0,479.1 2183.0,479.4 2184.0,479.8 C2185.0,480.1 2186.0,480.4 2187.0,480.8 C2188.0,481.1 2189.0,481.4 2190.0,481.8 C2191.0,482.1 2192.0,482.5 2193.0,482.8 C2194.0,483.2 2195.0,483.5 2196.0,483.9 C2197.0,484.2 2198.0,484.6 2199.0,484.9 C2200.0,485.3 2201.0,485.6 2202.0,486.0 C2203.0,486.4 2204.0,486.7 2205.0,487.1 C2206.0,487.4 2207.0,487.8 2208.0,488.1 C2209.0,488.5 2210.0,488.9 2211.0,489.2 C2212.0,489.6 2213.0,489.9 2214.0,490.3 C2215.0,490.6 2216.0,491.0 2217.0,491.3 C2218.0,491.7 2219.0,492.0 2220.0,492.4 C2221.0,492.7 2222.0,493.1 2223.0,493.4 C2224.0,493.8 2225.0,494.1 2226.0,494.5 C2227.0,494.8 2228.0,495.1 2229.0,495.5 C2230.0,495.8 2231.0,496.1 2232.0,496.4 C2233.0,496.8 2234.0,497.1 2235.0,497.4 C2236.0,497.7 2237.0,498.0 2238.0,498.3 C2239.0,498.6 2240.0,498.9 2241.0,499.2 C2242.0,499.5 2243.0,499.8 2244.0,500.1 C2245.0,500.4 2246.0,500.6 2247.0,500.9 C2248.0,501.2 2249.0,501.4 2250.0,501.7 C2251.0,501.9 2252.0,502.2 2253.0,502.4 C2254.0,502.7 2255.0,502.9 2256.0,503.1 C2257.0,503.4 2258.0,503.6 2259.0,503.8 C2260.0,504.0 2261.0,504.2 2262.0,504.4 C2263.0,504.6 2264.0,504.8 2265.0,505.0 C2266.0,505.2 2267.0,505.3 2268.0,505.5 C2269.0,505.7 2270.0,505.9 2271.0,506.0 C2272.0,506.2 2273.0,506.4 2274.0,506.5 C2275.0,506.7 2276.0,506.8 2277.0,507.0 C2278.0,507.1 2279.0,507.2 2280.0,507.4 C2281.0,507.5 2282.0,507.7 2283.0,507.8 C2284.0,507.9 2285.0,508.0 2286.0,508.2 C2287.0,508.3 2288.0,508.4 2289.0,508.5 C2290.0,508.6 2291.0,508.7 2292.0,508.8 C2293.0,509.0 2294.0,509.1 2295.0,509.2 C2296.0,509.3 2297.0,509.4 2298.0,509.5 C2299.0,509.6 2300.0,509.7 2301.0,509.8 C2302.0,509.9 2303.0,509.9 2304.0,510.0 C2305.0,510.1 2306.0,510.2 2307.0,510.3 C2308.0,510.4 2309.0,510.5 2310.0,510.6 C2311.0,510.7 2312.0,510.7 2313.0,510.8 C2314.0,510.9 2315.0,511.0 2316.0,511.1 C2317.0,511.2 2318.0,511.3 2319.0,511.3 C2320.0,511.4 2321.0,511.5 2322.0,511.6 C2323.0,511.7 2324.0,511.7 2325.0,511.8 C2326.0,511.9 2327.0,512.0 2328.0,512.1 C2329.0,512.2 2330.0,512.2 2331.0,512.3 C2332.0,512.4 2333.0,512.5 2334.0,512.5 C2335.0,512.6 2336.0,512.7 2337.0,512.8 C2338.0,512.9 2339.0,512.9 2340.0,513.0 C2341.0,513.1 2342.0,513.2 2343.0,513.2 C2344.0,513.3 2345.0,513.4 2346.0,513.5 C2347.0,513.5 2348.0,513.6 2349.0,513.7 C2350.0,513.8 2351.0,513.8 2352.0,513.9 C2353.0,514.0 2354.0,514.1 2355.0,514.1 C2356.0,514.2 2357.0,514.3 2358.0,514.4 C2359.0,514.4 2360.0,514.5 2361.0,514.6 C2362.0,514.6 2363.0,514.7 2364.0,514.8 C2365.0,514.9 2366.0,514.9 2367.0,515.0 C2368.0,515.1 2369.0,515.2 2370.0,515.2 C2371.0,515.3 2372.0,515.4 2373.0,515.4 C2374.0,515.5 2375.0,515.6 2376.0,515.7 C2377.0,515.7 2378.0,515.8 2379.0,515.9 C2380.0,516.0 2381.0,516.0 2382.0,516.1 C2383.0,516.2 2384.0,516.2 2385.0,516.3 C2386.0,516.4 2387.0,516.5 2388.0,516.5 C2389.0,516.6 2390.0,516.7 2391.0,516.8 C2392.0,516.8 2393.0,516.9 2394.0,517.0 C2395.0,517.0 2396.0,517.1 2397.0,517.2 C2398.0,517.3 2399.0,517.3 2400.0,517.4 C2401.0,517.5 2402.0,517.6 2403.0,517.6 C2404.0,517.7 2405.0,517.8 2406.0,517.9 C2407.0,517.9 2408.0,518.0 2409.0,518.1 C2410.0,518.2 2411.0,518.2 2412.0,518.3 C2413.0,518.4 2414.0,518.5 2415.0,518.6 C2416.0,518.6 2417.0,518.7 2418.0,518.8 C2419.0,518.9 2420.0,518.9 2421.0,519.0 C2422.0,519.1 2423.0,519.2 2424.0,519.3 C2425.0,519.3 2426.0,519.4 2427.0,519.5 C2428.0,519.6 2429.0,519.7 2430.0,519.7 C2431.0,519.8 2432.0,519.9 2433.0,520.0 C2434.0,520.1 2435.2,520.2 2436.0,520.2 C2436.8,520.3 2437.4,520.4 2437.7,520.4" stroke="#b0adac"/>
<path d="M273.0,62.9 C273.5,62.9 275.0,63.0 276.0,63.0 C277.0,63.1 278.0,63.1 279.0,63.2 C280.0,63.2 281.0,63.2 282.0,63.3 C283.0,63.3 284.0,63.3 285.0,63.4 C286.0,63.4 287.0,63.4 288.0,63.5 C289.0,63.5 290.0,63.6 291.0,63.6 C292.0,63.6 293.0,63.7 294.0,63.7 C295.0,63.7 296.0,63.8 297.0,63.8 C298.0,63.9 299.0,63.9 300.0,63.9 C301.0,64.0 302.0,64.0 303.0,64.0 C304.0,64.1 305.0,64.1 306.0,64.1 C307.0,64.2 308.0,64.2 309.0,64.3 C310.0,64.3 311.0,64.3 312.0,64.4 C313.0,64.4 314.0,64.4 315.0,64.5 C316.0,64.5 317.0,64.5 318.0,64.6 C319.0,64.6 320.0,64.7 321.0,64.7 C322.0,64.7 323.0,64.8 324.0,64.8 C325.0,64.8 326.0,64.9 327.0,64.9 C328.0,64.9 329.0,65.0 330.0,65.0 C331.0,65.0 332.0,65.1 333.0,65.1 C334.0,65.2 335.0,65.2 336.0,65.2 C337.0,65.3 338.0,65.3 339.0,65.3 C340.0,65.4 341.0,65.4 342.0,65.4 C343.0,65.5 344.0,65.5 345.0,65.5 C346.0,65.6 347.0,65.6 348.0,65.6 C349.0,65.7 350.0,65.7 351.0,65.7 C352.0,65.8 353.0,65.8 354.0,65.9 C355.0,65.9 356.0,65.9 357.0,66.0 C358.0,66.0 359.0,66.0 360.0,66.1 C361.0,66.1 362.0,66.1 363.0,66.2 C364.0,66.2 365.0,66.2 366.0,66.3 C367.0,66.3 368.0,66.3 369.0,66.4 C370.0,66.4 371.0,66.4 372.0,66.5 C373.0,66.5 374.0,66.5 375.0,66.6 C376.0,66.6 377.0,66.6 378.0,66.7 C379.0,66.7 380.0,66.7 381.0,66.8 C382.0,66.8 383.0,66.8 384.0,66.9 C385.0,66.9 386.0,66.9 387.0,67.0 C388.0,67.0 389.0,67.0 390.0,67.1 C391.0,67.1 392.0,67.1 393.0,67.2 C394.0,67.2 395.0,67.2 396.0,67.3 C397.0,67.3 398.0,67.3 399.0,67.4 C400.0,67.4 401.0,67.4 402.0,67.5 C403.0,67.5 404.0,67.5 405.0,67.6 C406.0,67.6 407.0,67.6 408.0,67.7 C409.0,67.7 410.0,67.7 411.0,67.8 C412.0,67.8 413.0,67.8 414.0,67.9 C415.0,67.9 416.0,67.9 417.0,68.0 C418.0,68.0 419.0,68.0 420.0,68.1 C421.0,68.1 422.0,68.1 423.0,68.2 C424.0,68.2 425.0,68.2 426.0,68.2 C427.0,68.3 428.0,68.3 429.0,68.3 C430.0,68.4 431.0,68.4 432.0,68.4 C433.0,68.5 434.0,68.5 435.0,68.5 C436.0,68.6 437.0,68.6 438.0,68.6 C439.0,68.7 440.0,68.7 441.0,68.7 C442.0,68.8 443.0,68.8 444.0,68.8 C445.0,68.8 446.0,68.9 447.0,68.9 C448.0,68.9 449.0,69.0 450.0,69.0 C451.0,69.0 452.0,69.1 453.0,69.1 C454.0,69.1 455.0,69.2 456.0,69.2 C457.0,69.2 458.0,69.2 459.0,69.3 C460.0,69.3 461.0,69.3 462.0,69.4 C463.0,69.4 464.0,69.4 465.0,69.5 C466.0,69.5 467.0,69.5 468.0,69.5 C469.0,69.6 470.0,69.6 471.0,69.6 C472.0,69.7 473.0,69.7 474.0,69.7 C475.0,69.8 476.0,69.8 477.0,69.8 C478.0,69.8 479.0,69.9 480.0,69.9 C481.0,69.9 482.0,70.0 483.0,70.0 C484.0,70.0 485.0,70.1 486.0,70.1 C487.0,70.1 488.0,70.1 489.0,70.2 C490.0,70.2 491.0,70.2 492.0,70.3 C493.0,70.3 494.0,70.3 495.0,70.3 C496.0,70.4 497.0,70.4 498.0,70.4 C499.0,70.5 500.0,70.5 501.0,70.5 C502.0,70.6 503.0,70.6 504.0,70.6 C505.0,70.6 506.0,70.7 507.0,70.7 C508.0,70.7 509.0,70.8 510.0,70.8 C511.0,70.8 512.0,70.8 513.0,70.9 C514.0,70.9 515.0,70.9 516.0,70.9 C517.0,71.0 518.0,71.0 519.0,71.0 C520.0,71.1 521.0,71.1 522.0,71.1 C523.0,71.1 524.0,71.2 525.0,71.2 C526.0,71.2 527.0,71.3 528.0,71.3 C529.0,71.3 530.0,71.3 531.0,71.4 C532.0,71.4 533.0,71.4 534.0,71.5 C535.0,71.5 536.0,71.5 537.0,71.5 C538.0,71.6 539.0,71.6 540.0,71.6 C541.0,71.6 542.0,71.7 543.0,71.7 C544.0,71.7 545.0,71.7 546.0,71.8 C547.0,71.8 548.0,71.8 549.0,71.9 C550.0,71.9 551.0,71.9 552.0,71.9 C553.0,72.0 554.0,72.0 555.0,72.0 C556.0,72.0 557.0,72.1 558.0,72.1 C559.0,72.1 560.0,72.1 561.0,72.2 C562.0,72.2 563.0,72.2 564.0,72.3 C565.0,72.3 566.0,72.3 567.0,72.3 C568.0,72.4 569.0,72.4 570.0,72.4 C571.0,72.4 572.0,72.5 573.0,72.5 C574.0,72.5 575.0,72.5 576.0,72.6 C577.0,72.6 578.0,72.6 579.0,72.6 C580.0,72.7 581.0,72.7 582.0,72.7 C583.0,72.7 584.0,72.8 585.0,72.8 C586.0,72.8 587.0,72.8 588.0,72.9 C589.0,72.9 590.0,72.9 591.0,72.9 C592.0,73.0 593.0,73.0 594.0,73.0 C595.0,73.0 596.0,73.1 597.0,73.1 C598.0,73.1 599.0,73.1 600.0,73.2 C601.0,73.2 602.0,73.2 603.0,73.2 C604.0,73.3 605.0,73.3 606.0,73.3 C607.0,73.3 608.0,73.4 609.0,73.4 C610.0,73.4 611.0,73.4 612.0,73.5 C613.0,73.5 614.0,73.5 615.0,73.5 C616.0,73.6 617.0,73.6 618.0,73.6 C619.0,73.6 620.0,73.7 621.0,73.7 C622.0,73.7 623.0,73.7 624.0,73.7 C625.0,73.8 626.0,73.8 627.0,73.8 C628.0,73.8 629.0,73.9 630.0,73.9 C631.0,73.9 632.0,73.9 633.0,74.0 C634.0,74.0 635.0,74.0 636.0,74.0 C637.0,74.1 638.0,74.1 639.0,74.1 C640.0,74.1 641.0,74.1 642.0,74.2 C643.0,74.2 644.0,74.2 645.0,74.2 C646.0,74.3 647.0,74.3 648.0,74.3 C649.0,74.3 650.0,74.3 651.0,74.4 C652.0,74.4 653.0,74.4 654.0,74.4 C655.0,74.5 656.0,74.5 657.0,74.5 C658.0,74.5 659.0,74.5 660.0,74.6 C661.0,74.6 662.0,74.6 663.0,74.6 C664.0,74.7 665.0,74.7 666.0,74.7 C667.0,74.7 668.0,74.7 669.0,74.8 C670.0,74.8 671.0,74.8 672.0,74.8 C673.0,74.9 674.0,74.9 675.0,74.9 C676.0,74.9 677.0,74.9 678.0,75.0 C679.0,75.0 680.0,75.0 681.0,75.0 C682.0,75.0 683.0,75.1 684.0,75.1 C685.0,75.1 686.0,75.1 687.0,75.1 C688.0,75.2 689.0,75.2 690.0,75.2 C691.0,75.2 692.0,75.2 693.0,75.3 C694.0,75.3 695.0,75.3 696.0,75.3 C697.0,75.4 698.0,75.4 699.0,75.4 C700.0,75.4 701.0,75.4 702.0,75.5 C703.0,75.5 704.0,75.5 705.0,75.5 C706.0,75.5 707.0,75.6 708.0,75.6 C709.0,75.6 710.0,75.6 711.0,75.6 C712.0,75.7 713.0,75.7 714.0,75.7 C715.0,75.7 716.0,75.7 717.0,75.7 C718.0,75.8 719.0,75.8 720.0,75.8 C721.0,75.8 722.0,75.8 723.0,75.9 C724.0,75.9 725.0,75.9 726.0,75.9 C727.0,75.9 728.0,76.0 729.0,76.0 C730.0,76.0 731.0,76.0 732.0,76.0 C733.0,76.1 734.0,76.1 735.0,76.1 C736.0,76.1 737.0,76.1 738.0,76.1 C739.0,76.2 740.0,76.2 741.0,76.2 C742.0,76.2 743.0,76.2 744.0,76.3 C745.0,76.3 746.0,76.3 747.0,76.3 C748.0,76.3 749.0,76.3 750.0,76.4 C751.0,76.4 752.0,76.4 753.0,76.4 C754.0,76.4 755.0,76.5 756.0,76.5 C757.0,76.5 758.0,76.5 759.0,76.5 C760.0,76.5 761.0,76.6 762.0,76.6 C763.0,76.6 764.0,76.6 765.0,76.6 C766.0,76.6 767.0,76.7 768.0,76.7 C769.0,76.7 770.0,76.7 771.0,76.7 C772.0,76.7 773.0,76.8 774.0,76.8 C775.0,76.8 776.0,76.8 777.0,76.8 C778.0,76.8 779.0,76.9 780.0,76.9 C781.0,76.9 782.0,76.9 783.0,76.9 C784.0,76.9 785.0,77.0 786.0,77.0 C787.0,77.0 788.0,77.0 789.0,77.0 C790.0,77.0 791.0,77.1 792.0,77.1 C793.0,77.1 794.0,77.1 795.0,77.1 C796.0,77.1 797.0,77.2 798.0,77.2 C799.0,77.2 800.0,77.2 801.0,77.2 C802.0,77.2 803.0,77.2 804.0,77.3 C805.0,77.3 806.0,77.3 807.0,77.3 C808.0,77.3 809.0,77.3 810.0,77.4 C811.0,77.4 812.0,77.4 813.0,77.4 C814.0,77.4 815.0,77.4 816.0,77.5 C817.0,77.5 818.0,77.5 819.0,77.5 C820.0,77.5 821.0,77.5 822.0,77.6 C823.0,77.6 824.0,77.6 825.0,77.6 C826.0,77.6 827.0,77.6 828.0,77.7 C829.0,77.7 830.0,77.7 831.0,77.7 C832.0,77.7 833.0,77.8 834.0,77.8 C835.0,77.8 836.0,77.8 837.0,77.9 C838.0,77.9 839.0,77.9 840.0,77.9 C841.0,78.0 842.0,78.0 843.0,78.0 C844.0,78.0 845.0,78.1 846.0,78.1 C847.0,78.1 848.0,78.1 849.0,78.2 C850.0,78.2 851.0,78.2 852.0,78.3 C853.0,78.3 854.0,78.3 855.0,78.4 C856.0,78.4 857.0,78.4 858.0,78.5 C859.0,78.5 860.0,78.5 861.0,78.6 C862.0,78.6 863.0,78.7 864.0,78.7 C865.0,78.7 866.0,78.8 867.0,78.8 C868.0,78.9 869.0,78.9 870.0,79.0 C871.0,79.0 872.0,79.1 873.0,79.1 C874.0,79.2 875.0,79.2 876.0,79.3 C877.0,79.3 878.0,79.4 879.0,79.4 C880.0,79.5 881.0,79.5 882.0,79.6 C883.0,79.7 884.0,79.7 885.0,79.8 C886.0,79.8 887.0,79.9 888.0,80.0 C889.0,80.0 890.0,80.1 891.0,80.2 C892.0,80.2 893.0,80.3 894.0,80.4 C895.0,80.5 896.0,80.5 897.0,80.6 C898.0,80.7 899.0,80.8 900.0,80.8 C901.0,80.9 902.0,81.0 903.0,81.1 C904.0,81.2 905.0,81.3 906.0,81.4 C907.0,81.4 908.0,81.5 909.0,81.6 C910.0,81.7 911.0,81.8 912.0,81.9 C913.0,82.0 914.0,82.1 915.0,82.2 C916.0,82.3 917.0,82.4 918.0,82.5 C919.0,82.6 920.0,82.8 921.0,82.9 C922.0,83.0 923.0,83.1 924.0,83.2 C925.0,83.3 926.0,83.4 927.0,83.6 C928.0,83.7 929.0,83.8 930.0,83.9 C931.0,84.1 932.0,84.2 933.0,84.3 C934.0,84.5 935.0,84.6 936.0,84.7 C937.0,84.9 938.0,85.0 939.0,85.2 C940.0,85.3 941.0,85.5 942.0,85.6 C943.0,85.8 944.0,85.9 945.0,86.1 C946.0,86.2 947.0,86.4 948.0,86.5 C949.0,86.7 950.0,86.9 951.0,87.0 C952.0,87.2 953.0,87.4 954.0,87.5 C955.0,87.7 956.0,87.9 957.0,88.1 C958.0,88.3 959.0,88.4 960.0,88.6 C961.0,88.8 962.0,89.0 963.0,89.2 C964.0,89.4 965.0,89.6 966.0,89.8 C967.0,90.0 968.0,90.2 969.0,90.4 C970.0,90.6 971.0,90.8 972.0,91.0 C973.0,91.3 974.0,91.5 975.0,91.7 C976.0,91.9 977.0,92.1 978.0,92.4 C979.0,92.6 980.0,92.8 981.0,93.1 C982.0,93.3 983.0,93.5 984.0,93.8 C985.0,94.0 986.0,94.3 987.0,94.5 C988.0,94.8 989.0,95.0 990.0,95.3 C991.0,95.6 992.0,95.8 993.0,96.1 C994.0,96.4 995.0,96.6 996.0,96.9 C997.0,97.2 998.0,97.5 999.0,97.7 C1000.0,98.0 1001.0,98.3 1002.0,98.6 C1003.0,98.9 1004.0,99.2 1005.0,99.5 C1006.0,99.8 1007.0,100.1 1008.0,100.4 C1009.0,100.7 1010.0,101.0 1011.0,101.3 C1012.0,101.7 1013.0,102.0 1014.0,102.3 C1015.0,102.6 1016.0,103.0 1017.0,103.3 C1018.0,103.6 1019.0,104.0 1020.0,104.3 C1021.0,104.7 1022.0,105.0 1023.0,105.4 C1024.0,105.7 1025.0,106.1 1026.0,106.4 C1027.0,106.8 1028.0,107.2 1029.0,107.6 C1030.0,107.9 1031.0,108.3 1032.0,108.7 C1033.0,109.1 1034.0,109.5 1035.0,109.9 C1036.0,110.3 1037.0,110.8 1038.0,111.2 C1039.0,111.6 1040.0,112.1 1041.0,112.5 C1042.0,113.0 1043.0,113.4 1044.0,113.9 C1045.0,114.4 1046.0,114.8 1047.0,115.3 C1048.0,115.8 1049.0,116.3 1050.0,116.9 C1051.0,117.4 1052.0,117.9 1053.0,118.5 C1054.0,119.0 1055.0,119.6 1056.0,120.2 C1057.0,120.7 1058.0,121.3 1059.0,121.9 C1060.0,122.5 1061.0,123.2 1062.0,123.8 C1063.0,124.4 1064.0,125.1 1065.0,125.8 C1066.0,126.4 1067.0,127.1 1068.0,127.8 C1069.0,128.5 1070.0,129.3 1071.0,130.0 C1072.0,130.8 1073.0,131.5 1074.0,132.3 C1075.0,133.1 1076.0,133.9 1077.0,134.7 C1078.0,135.6 1079.0,136.4 1080.0,137.3 C1081.0,138.1 1082.0,139.0 1083.0,140.0 C1084.0,140.9 1085.0,141.8 1086.0,142.8 C1087.0,143.7 1088.0,144.7 1089.0,145.7 C1090.0,146.7 1091.0,147.7 1092.0,148.8 C1093.0,149.9 1094.0,150.9 1095.0,152.1 C1096.0,153.2 1097.0,154.3 1098.0,155.5 C1099.0,156.6 1100.0,157.8 1101.0,159.0 C1102.0,160.2 1103.0,161.5 1104.0,162.7 C1105.0,164.0 1106.0,165.3 1107.0,166.6 C1108.0,167.9 1109.0,169.3 1110.0,170.6 C1111.0,172.0 1112.0,173.4 1113.0,174.8 C1114.0,176.2 1115.0,177.6 1116.0,179.1 C1117.0,180.5 1118.0,182.0 1119.0,183.4 C1120.0,184.9 1121.0,186.4 1122.0,187.9 C1123.0,189.4 1124.0,190.9 1125.0,192.5 C1126.0,194.0 1127.0,195.5 1128.0,197.1 C1129.0,198.6 1130.0,200.2 1131.0,201.7 C1132.0,203.3 1133.0,204.9 1134.0,206.4 C1135.0,208.0 1136.0,209.6 1137.0,211.2 C1138.0,212.8 1139.0,214.4 1140.0,215.9 C1141.0,217.5 1142.0,219.1 1143.0,220.7 C1144.0,222.3 1145.0,223.9 1146.0,225.4 C1147.0,227.0 1148.0,228.6 1149.0,230.2 C1150.0,231.7 1151.0,233.3 1152.0,234.9 C1153.0,236.4 1154.0,238.0 1155.0,239.5 C1156.0,241.0 1157.0,242.5 1158.0,244.0 C1159.0,245.5 1160.0,246.9 1161.0,248.3 C1162.0,249.7 1163.0,251.1 1164.0,252.4 C1165.0,253.7 1166.0,255.0 1167.0,256.2 C1168.0,257.4 1169.0,258.6 1170.0,259.7 C1171.0,260.7 1172.0,261.8 1173.0,262.7 C1174.0,263.7 1175.0,264.6 1176.0,265.5 C1177.0,266.4 1178.0,267.2 1179.0,268.0 C1180.0,268.8 1181.0,269.5 1182.0,270.2 C1183.0,270.9 1184.0,271.5 1185.0,272.1 C1186.0,272.8 1187.0,273.3 1188.0,273.9 C1189.0,274.5 1190.0,275.0 1191.0,275.5 C1192.0,276.0 1193.0,276.5 1194.0,276.9 C1195.0,277.4 1196.0,277.8 1197.0,278.2 C1198.0,278.6 1199.0,279.0 1200.0,279.4 C1201.0,279.8 1202.0,280.2 1203.0,280.6 C1204.0,281.0 1205.0,281.3 1206.0,281.7 C1207.0,282.1 1208.0,282.4 1209.0,282.8 C1210.0,283.2 1211.0,283.5 1212.0,283.9 C1213.0,284.3 1214.0,284.6 1215.0,285.0 C1216.0,285.3 1217.0,285.7 1218.0,286.1 C1219.0,286.4 1220.0,286.8 1221.0,287.1 C1222.0,287.5 1223.0,287.8 1224.0,288.2 C1225.0,288.5 1226.0,288.9 1227.0,289.2 C1228.0,289.6 1229.0,289.9 1230.0,290.3 C1231.0,290.6 1232.0,291.0 1233.0,291.3 C1234.0,291.6 1235.0,292.0 1236.0,292.3 C1237.0,292.7 1238.0,293.0 1239.0,293.3 C1240.0,293.7 1241.0,294.0 1242.0,294.3 C1243.0,294.7 1244.0,295.0 1245.0,295.3 C1246.0,295.7 1247.0,296.0 1248.0,296.3 C1249.0,296.7 1250.0,297.0 1251.0,297.3 C1252.0,297.6 1253.0,298.0 1254.0,298.3 C1255.0,298.6 1256.0,298.9 1257.0,299.2 C1258.0,299.6 1259.0,299.9 1260.0,300.2 C1261.0,300.5 1262.0,300.8 1263.0,301.2 C1264.0,301.5 1265.0,301.8 1266.0,302.1 C1267.0,302.4 1268.0,302.7 1269.0,303.0 C1270.0,303.3 1271.0,303.7 1272.0,304.0 C1273.0,304.3 1274.0,304.6 1275.0,304.9 C1276.0,305.2 1277.0,305.5 1278.0,305.8 C1279.0,306.1 1280.0,306.4 1281.0,306.7 C1282.0,307.0 1283.0,307.3 1284.0,307.6 C1285.0,307.9 1286.0,308.2 1287.0,308.5 C1288.0,308.8 1289.0,309.1 1290.0,309.4 C1291.0,309.7 1292.0,310.0 1293.0,310.3 C1294.0,310.5 1295.0,310.8 1296.0,311.1 C1297.0,311.4 1298.0,311.7 1299.0,312.0 C1300.0,312.3 1301.0,312.6 1302.0,312.8 C1303.0,313.1 1304.0,313.4 1305.0,313.7 C1306.0,314.0 1307.0,314.3 1308.0,314.5 C1309.0,314.8 1310.0,315.1 1311.0,315.4 C1312.0,315.7 1313.0,315.9 1314.0,316.2 C1315.0,316.5 1316.0,316.8 1317.0,317.1 C1318.0,317.3 1319.0,317.6 1320.0,317.9 C1321.0,318.1 1322.0,318.4 1323.0,318.7 C1324.0,319.0 1325.0,319.2 1326.0,319.5 C1327.0,319.8 1328.0,320.0 1329.0,320.3 C1330.0,320.6 1331.0,320.8 1332.0,321.1 C1333.0,321.4 1334.0,321.6 1335.0,321.9 C1336.0,322.2 1337.0,322.4 1338.0,322.7 C1339.0,323.0 1340.0,323.2 1341.0,323.5 C1342.0,323.7 1343.0,324.0 1344.0,324.3 C1345.0,324.5 1346.0,324.8 1347.0,325.0 C1348.0,325.3 1349.0,325.6 1350.0,325.8 C1351.0,326.1 1352.0,326.3 1353.0,326.6 C1354.0,326.8 1355.0,327.1 1356.0,327.3 C1357.0,327.6 1358.0,327.9 1359.0,328.1 C1360.0,328.4 1361.0,328.6 1362.0,328.9 C1363.0,329.1 1364.0,329.4 1365.0,329.6 C1366.0,329.9 1367.0,330.1 1368.0,330.4 C1369.0,330.6 1370.0,330.8 1371.0,331.1 C1372.0,331.3 1373.0,331.6 1374.0,331.8 C1375.0,332.1 1376.0,332.3 1377.0,332.6 C1378.0,332.8 1379.0,333.1 1380.0,333.3 C1381.0,333.5 1382.0,333.8 1383.0,334.0 C1384.0,334.3 1385.0,334.5 1386.0,334.7 C1387.0,335.0 1388.0,335.2 1389.0,335.5 C1390.0,335.7 1391.0,335.9 1392.0,336.2 C1393.0,336.4 1394.0,336.7 1395.0,336.9 C1396.0,337.1 1397.0,337.4 1398.0,337.6 C1399.0,337.8 1400.0,338.1 1401.0,338.3 C1402.0,338.5 1403.0,338.8 1404.0,339.0 C1405.0,339.3 1406.0,339.5 1407.0,339.7 C1408.0,340.0 1409.0,340.2 1410.0,340.4 C1411.0,340.7 1412.0,340.9 1413.0,341.1 C1414.0,341.3 1415.0,341.6 1416.0,341.8 C1417.0,342.0 1418.0,342.3 1419.0,342.5 C1420.0,342.7 1421.0,343.0 1422.0,343.2 C1423.0,343.4 1424.0,343.6 1425.0,343.9 C1426.0,344.1 1427.0,344.3 1428.0,344.6 C1429.0,344.8 1430.0,345.0 1431.0,345.2 C1432.0,345.5 1433.0,345.7 1434.0,345.9 C1435.0,346.1 1436.0,346.4 1437.0,346.6 C1438.0,346.8 1439.0,347.0 1440.0,347.3 C1441.0,347.5 1442.0,347.7 1443.0,347.9 C1444.0,348.2 1445.0,348.4 1446.0,348.6 C1447.0,348.8 1448.0,349.0 1449.0,349.3 C1450.0,349.5 1451.0,349.7 1452.0,349.9 C1453.0,350.1 1454.0,350.4 1455.0,350.6 C1456.0,350.8 1457.0,351.0 1458.0,351.2 C1459.0,351.4 1460.0,351.7 1461.0,351.9 C1462.0,352.1 1463.0,352.3 1464.0,352.5 C1465.0,352.7 1466.0,353.0 1467.0,353.2 C1468.0,353.4 1469.0,353.6 1470.0,353.8 C1471.0,354.0 1472.0,354.2 1473.0,354.4 C1474.0,354.7 1475.0,354.9 1476.0,355.1 C1477.0,355.3 1478.0,355.5 1479.0,355.7 C1480.0,355.9 1481.0,356.1 1482.0,356.3 C1483.0,356.6 1484.0,356.8 1485.0,357.0 C1486.0,357.2 1487.0,357.4 1488.0,357.6 C1489.0,357.8 1490.0,358.0 1491.0,358.2 C1492.0,358.4 1493.0,358.6 1494.0,358.8 C1495.0,359.0 1496.0,359.2 1497.0,359.4 C1498.0,359.6 1499.0,359.8 1500.0,360.0 C1501.0,360.2 1502.0,360.4 1503.0,360.7 C1504.0,360.9 1505.0,361.1 1506.0,361.3 C1507.0,361.5 1508.0,361.7 1509.0,361.9 C1510.0,362.1 1511.0,362.2 1512.0,362.4 C1513.0,362.6 1514.0,362.8 1515.0,363.0 C1516.0,363.2 1517.0,363.4 1518.0,363.6 C1519.0,363.8 1520.0,364.0 1521.0,364.2 C1522.0,364.4 1523.0,364.6 1524.0,364.8 C1525.0,365.0 1526.0,365.2 1527.0,365.4 C1528.0,365.6 1529.0,365.8 1530.0,365.9 C1531.0,366.1 1532.0,366.3 1533.0,366.5 C1534.0,366.7 1535.0,366.9 1536.0,367.1 C1537.0,367.3 1538.0,367.5 1539.0,367.6 C1540.0,367.8 1541.0,368.0 1542.0,368.2 C1543.0,368.4 1544.0,368.6 1545.0,368.8 C1546.0,368.9 1547.0,369.1 1548.0,369.3 C1549.0,369.5 1550.0,369.7 1551.0,369.9 C1552.0,370.0 1553.0,370.2 1554.0,370.4 C1555.0,370.6 1556.0,370.8 1557.0,371.0 C1558.0,371.1 1559.0,371.3 1560.0,371.5 C1561.0,371.7 1562.0,371.8 1563.0,372.0 C1564.0,372.2 1565.0,372.4 1566.0,372.6 C1567.0,372.7 1568.0,372.9 1569.0,373.1 C1570.0,373.3 1571.0,373.4 1572.0,373.6 C1573.0,373.8 1574.0,374.0 1575.0,374.1 C1576.0,374.3 1577.0,374.5 1578.0,374.6 C1579.0,374.8 1580.0,375.0 1581.0,375.1 C1582.0,375.3 1583.0,375.5 1584.0,375.7 C1585.0,375.8 1586.0,376.0 1587.0,376.2 C1588.0,376.3 1589.0,376.5 1590.0,376.7 C1591.0,376.8 1592.0,377.0 1593.0,377.2 C1594.0,377.3 1595.0,377.5 1596.0,377.6 C1597.0,377.8 1598.0,378.0 1599.0,378.1 C1600.0,378.3 1601.0,378.5 1602.0,378.6 C1603.0,378.8 1604.0,378.9 1605.0,379.1 C1606.0,379.3 1607.0,379.4 1608.0,379.6 C1609.0,379.7 1610.0,379.9 1611.0,380.0 C1612.0,380.2 1613.0,380.3 1614.0,380.5 C1615.0,380.7 1616.0,380.8 1617.0,381.0 C1618.0,381.1 1619.0,381.3 1620.0,381.4 C1621.0,381.6 1622.0,381.7 1623.0,381.9 C1624.0,382.0 1625.0,382.2 1626.0,382.3 C1627.0,382.5 1628.0,382.6 1629.0,382.8 C1630.0,382.9 1631.0,383.1 1632.0,383.2 C1633.0,383.4 1634.0,383.5 1635.0,383.6 C1636.0,383.8 1637.0,383.9 1638.0,384.1 C1639.0,384.2 1640.0,384.4 1641.0,384.5 C1642.0,384.7 1643.0,384.8 1644.0,384.9 C1645.0,385.1 1646.0,385.2 1647.0,385.4 C1648.0,385.5 1649.0,385.6 1650.0,385.8 C1651.0,385.9 1652.0,386.0 1653.0,386.2 C1654.0,386.3 1655.0,386.4 1656.0,386.6 C1657.0,386.7 1658.0,386.9 1659.0,387.0 C1660.0,387.1 1661.0,387.2 1662.0,387.4 C1663.0,387.5 1664.0,387.6 1665.0,387.8 C1666.0,387.9 1667.0,388.0 1668.0,388.2 C1669.0,388.3 1670.0,388.4 1671.0,388.5 C1672.0,388.7 1673.0,388.8 1674.0,388.9 C1675.0,389.0 1676.0,389.2 1677.0,389.3 C1678.0,389.4 1679.0,389.5 1680.0,389.7 C1681.0,389.8 1682.0,389.9 1683.0,390.0 C1684.0,390.2 1685.0,390.3 1686.0,390.4 C1687.0,390.5 1688.0,390.6 1689.0,390.7 C1690.0,390.9 1691.0,391.0 1692.0,391.1 C1693.0,391.2 1694.0,391.3 1695.0,391.4 C1696.0,391.6 1697.0,391.7 1698.0,391.8 C1699.0,391.9 1700.0,392.0 1701.0,392.1 C1702.0,392.2 1703.0,392.3 1704.0,392.5 C1705.0,392.6 1706.0,392.7 1707.0,392.8 C1708.0,392.9 1709.0,393.0 1710.0,393.1 C1711.0,393.2 1712.0,393.3 1713.0,393.4 C1714.0,393.5 1715.0,393.6 1716.0,393.7 C1717.0,393.8 1718.0,394.0 1719.0,394.1 C1720.0,394.2 1721.0,394.3 1722.0,394.4 C1723.0,394.5 1724.0,394.6 1725.0,394.7 C1726.0,394.8 1727.0,394.9 1728.0,395.0 C1729.0,395.1 1730.0,395.2 1731.0,395.3 C1732.0,395.4 1733.0,395.5 1734.0,395.6 C1735.0,395.7 1736.0,395.8 1737.0,395.9 C1738.0,396.0 1739.0,396.1 1740.0,396.1 C1741.0,396.2 1742.0,396.3 1743.0,396.4 C1744.0,396.5 1745.0,396.6 1746.0,396.7 C1747.0,396.8 1748.0,396.9 1749.0,397.0 C1750.0,397.1 1751.0,397.2 1752.0,397.3 C1753.0,397.4 1754.0,397.5 1755.0,397.6 C1756.0,397.6 1757.0,397.7 1758.0,397.8 C1759.0,397.9 1760.0,398.0 1761.0,398.1 C1762.0,398.2 1763.0,398.3 1764.0,398.4 C1765.0,398.5 1766.0,398.5 1767.0,398.6 C1768.0,398.7 1769.0,398.8 1770.0,398.9 C1771.0,399.0 1772.0,399.1 1773.0,399.2 C1774.0,399.3 1775.0,399.3 1776.0,399.4 C1777.0,399.5 1778.0,399.6 1779.0,399.7 C1780.0,399.8 1781.0,399.9 1782.0,399.9 C1783.0,400.0 1784.0,400.1 1785.0,400.2 C1786.0,400.3 1787.0,400.4 1788.0,400.5 C1789.0,400.6 1790.0,400.6 1791.0,400.7 C1792.0,400.8 1793.0,400.9 1794.0,401.0 C1795.0,401.1 1796.0,401.1 1797.0,401.2 C1798.0,401.3 1799.0,401.4 1800.0,401.5 C1801.0,401.6 1802.0,401.7 1803.0,401.7 C1804.0,401.8 1805.0,401.9 1806.0,402.0 C1807.0,402.1 1808.0,402.2 1809.0,402.2 C1810.0,402.3 1811.0,402.4 1812.0,402.5 C1813.0,402.6 1814.0,402.7 1815.0,402.7 C1816.0,402.8 1817.0,402.9 1818.0,403.0 C1819.0,403.1 1820.0,403.2 1821.0,403.2 C1822.0,403.3 1823.0,403.4 1824.0,403.5 C1825.0,403.6 1826.0,403.7 1827.0,403.7 C1828.0,403.8 1829.0,403.9 1830.0,404.0 C1831.0,404.1 1832.0,404.2 1833.0,404.2 C1834.0,404.3 1835.0,404.4 1836.0,404.5 C1837.0,404.6 1838.0,404.7 1839.0,404.8 C1840.0,404.8 1841.0,404.9 1842.0,405.0 C1843.0,405.1 1844.0,405.2 1845.0,405.3 C1846.0,405.4 1847.0,405.4 1848.0,405.5 C1849.0,405.6 1850.0,405.7 1851.0,405.8 C1852.0,405.9 1853.0,406.0 1854.0,406.0 C1855.0,406.1 1856.0,406.2 1857.0,406.3 C1858.0,406.4 1859.0,406.5 1860.0,406.6 C1861.0,406.6 1862.0,406.7 1863.0,406.8 C1864.0,406.9 1865.0,407.0 1866.0,407.1 C1867.0,407.2 1868.0,407.3 1869.0,407.4 C1870.0,407.4 1871.0,407.5 1872.0,407.6 C1873.0,407.7 1874.0,407.8 1875.0,407.9 C1876.0,408.0 1877.0,408.1 1878.0,408.2 C1879.0,408.3 1880.0,408.4 1881.0,408.4 C1882.0,408.5 1883.0,408.6 1884.0,408.7 C1885.0,408.8 1886.0,408.9 1887.0,409.0 C1888.0,409.1 1889.0,409.2 1890.0,409.3 C1891.0,409.4 1892.0,409.5 1893.0,409.6 C1894.0,409.7 1895.0,409.8 1896.0,409.9 C1897.0,410.0 1898.0,410.1 1899.0,410.1 C1900.0,410.2 1901.0,410.3 1902.0,410.4 C1903.0,410.5 1904.0,410.6 1905.0,410.7 C1906.0,410.8 1907.0,410.9 1908.0,411.0 C1909.0,411.1 1910.0,411.2 1911.0,411.3 C1912.0,411.4 1913.0,411.6 1914.0,411.7 C1915.0,411.8 1916.0,411.9 1917.0,412.0 C1918.0,412.1 1919.0,412.2 1920.0,412.3 C1921.0,412.4 1922.0,412.5 1923.0,412.6 C1924.0,412.7 1925.0,412.8 1926.0,412.9 C1927.0,413.0 1928.0,413.1 1929.0,413.3 C1930.0,413.4 1931.0,413.5 1932.0,413.6 C1933.0,413.7 1934.0,413.8 1935.0,413.9 C1936.0,414.0 1937.0,414.1 1938.0,414.3 C1939.0,414.4 1940.0,414.5 1941.0,414.6 C1942.0,414.7 1943.0,414.8 1944.0,415.0 C1945.0,415.1 1946.0,415.2 1947.0,415.3 C1948.0,415.4 1949.0,415.5 1950.0,415.7 C1951.0,415.8 1952.0,415.9 1953.0,416.0 C1954.0,416.2 1955.0,416.3 1956.0,416.4 C1957.0,416.5 1958.0,416.6 1959.0,416.8 C1960.0,416.9 1961.0,417.0 1962.0,417.2 C1963.0,417.3 1964.0,417.4 1965.0,417.5 C1966.0,417.7 1967.0,417.8 1968.0,417.9 C1969.0,418.1 1970.0,418.2 1971.0,418.3 C1972.0,418.5 1973.0,418.6 1974.0,418.7 C1975.0,418.9 1976.0,419.0 1977.0,419.2 C1978.0,419.3 1979.0,419.4 1980.0,419.6 C1981.0,419.7 1982.0,419.9 1983.0,420.0 C1984.0,420.2 1985.0,420.3 1986.0,420.5 C1987.0,420.6 1988.0,420.7 1989.0,420.9 C1990.0,421.0 1991.0,421.2 1992.0,421.4 C1993.0,421.5 1994.0,421.7 1995.0,421.8 C1996.0,422.0 1997.0,422.1 1998.0,422.3 C1999.0,422.4 2000.0,422.6 2001.0,422.8 C2002.0,422.9 2003.0,423.1 2004.0,423.3 C2005.0,423.4 2006.0,423.6 2007.0,423.7 C2008.0,423.9 2009.0,424.1 2010.0,424.3 C2011.0,424.4 2012.0,424.6 2013.0,424.8 C2014.0,424.9 2015.0,425.1 2016.0,425.3 C2017.0,425.5 2018.0,425.7 2019.0,425.8 C2020.0,426.0 2021.0,426.2 2022.0,426.4 C2023.0,426.6 2024.0,426.8 2025.0,426.9 C2026.0,427.1 2027.0,427.3 2028.0,427.5 C2029.0,427.7 2030.0,427.9 2031.0,428.1 C2032.0,428.3 2033.0,428.5 2034.0,428.7 C2035.0,428.9 2036.0,429.1 2037.0,429.3 C2038.0,429.5 2039.0,429.7 2040.0,429.9 C2041.0,430.1 2042.0,430.3 2043.0,430.5 C2044.0,430.7 2045.0,431.0 2046.0,431.2 C2047.0,431.4 2048.0,431.6 2049.0,431.8 C2050.0,432.0 2051.0,432.3 2052.0,432.5 C2053.0,432.7 2054.0,432.9 2055.0,433.2 C2056.0,433.4 2057.0,433.6 2058.0,433.9 C2059.0,434.1 2060.0,434.3 2061.0,434.6 C2062.0,434.8 2063.0,435.0 2064.0,435.3 C2065.0,435.5 2066.0,435.8 2067.0,436.0 C2068.0,436.2 2069.0,436.5 2070.0,436.7 C2071.0,437.0 2072.0,437.2 2073.0,437.5 C2074.0,437.8 2075.0,438.0 2076.0,438.3 C2077.0,438.5 2078.0,438.8 2079.0,439.0 C2080.0,439.3 2081.0,439.6 2082.0,439.8 C2083.0,440.1 2084.0,440.4 2085.0,440.6 C2086.0,440.9 2087.0,441.2 2088.0,441.4 C2089.0,441.7 2090.0,442.0 2091.0,442.2 C2092.0,442.5 2093.0,442.8 2094.0,443.1 C2095.0,443.3 2096.0,443.6 2097.0,443.9 C2098.0,444.2 2099.0,444.4 2100.0,444.7 C2101.0,445.0 2102.0,445.3 2103.0,445.6 C2104.0,445.8 2105.0,446.1 2106.0,446.4 C2107.0,446.7 2108.0,447.0 2109.0,447.3 C2110.0,447.5 2111.0,447.8 2112.0,448.1 C2113.0,448.4 2114.0,448.7 2115.0,449.0 C2116.0,449.3 2117.0,449.6 2118.0,449.8 C2119.0,450.1 2120.0,450.4 2121.0,450.7 C2122.0,451.0 2123.0,451.3 2124.0,451.6 C2125.0,451.9 2126.0,452.2 2127.0,452.4 C2128.0,452.7 2129.0,453.0 2130.0,453.3 C2131.0,453.6 2132.0,453.9 2133.0,454.2 C2134.0,454.5 2135.0,454.8 2136.0,455.0 C2137.0,455.3 2138.0,455.6 2139.0,455.9 C2140.0,456.2 2141.0,456.5 2142.0,456.8 C2143.0,457.1 2144.0,457.4 2145.0,457.6 C2146.0,457.9 2147.0,458.2 2148.0,458.5 C2149.0,458.8 2150.0,459.1 2151.0,459.4 C2152.0,459.6 2153.0,459.9 2154.0,460.2 C2155.0,460.5 2156.0,460.8 2157.0,461.1 C2158.0,461.3 2159.0,461.6 2160.0,461.9 C2161.0,462.2 2162.0,462.5 2163.0,462.7 C2164.0,463.0 2165.0,463.3 2166.0,463.6 C2167.0,463.9 2168.0,464.1 2169.0,464.4 C2170.0,464.7 2171.0,465.0 2172.0,465.2 C2173.0,465.5 2174.0,465.8 2175.0,466.0 C2176.0,466.3 2177.0,466.6 2178.0,466.8 C2179.0,467.1 2180.0,467.4 2181.0,467.6 C2182.0,467.9 2183.0,468.1 2184.0,468.4 C2185.0,468.7 2186.0,468.9 2187.0,469.2 C2188.0,469.4 2189.0,469.7 2190.0,469.9 C2191.0,470.2 2192.0,470.4 2193.0,470.7 C2194.0,470.9 2195.0,471.2 2196.0,471.4 C2197.0,471.7 2198.0,471.9 2199.0,472.2 C2200.0,472.4 2201.0,472.6 2202.0,472.9 C2203.0,473.1 2204.0,473.3 2205.0,473.6 C2206.0,473.8 2207.0,474.0 2208.0,474.3 C2209.0,474.5 2210.0,474.7 2211.0,475.0 C2212.0,475.2 2213.0,475.4 2214.0,475.6 C2215.0,475.8 2216.0,476.1 2217.0,476.3 C2218.0,476.5 2219.0,476.7 2220.0,476.9 C2221.0,477.1 2222.0,477.4 2223.0,477.6 C2224.0,477.8 2225.0,478.0 2226.0,478.2 C2227.0,478.4 2228.0,478.6 2229.0,478.8 C2230.0,479.0 2231.0,479.2 2232.0,479.4 C2233.0,479.6 2234.0,479.8 2235.0,480.0 C2236.0,480.2 2237.0,480.4 2238.0,480.6 C2239.0,480.8 2240.0,481.0 2241.0,481.2 C2242.0,481.4 2243.0,481.6 2244.0,481.8 C2245.0,482.0 2246.0,482.2 2247.0,482.4 C2248.0,482.5 2249.0,482.7 2250.0,482.9 C2251.0,483.1 2252.0,483.3 2253.0,483.5 C2254.0,483.6 2255.0,483.8 2256.0,484.0 C2257.0,484.2 2258.0,484.3 2259.0,484.5 C2260.0,484.7 2261.0,484.9 2262.0,485.0 C2263.0,485.2 2264.0,485.4 2265.0,485.6 C2266.0,485.7 2267.0,485.9 2268.0,486.1 C2269.0,486.2 2270.0,486.4 2271.0,486.6 C2272.0,486.7 2273.0,486.9 2274.0,487.0 C2275.0,487.2 2276.0,487.4 2277.0,487.5 C2278.0,487.7 2279.0,487.8 2280.0,488.0 C2281.0,488.2 2282.0,488.3 2283.0,488.5 C2284.0,488.6 2285.0,488.8 2286.0,488.9 C2287.0,489.1 2288.0,489.2 2289.0,489.4 C2290.0,489.5 2291.0,489.7 2292.0,489.8 C2293.0,490.0 2294.0,490.1 2295.0,490.3 C2296.0,490.4 2297.0,490.5 2298.0,490.7 C2299.0,490.8 2300.0,491.0 2301.0,491.1 C2302.0,491.3 2303.0,491.4 2304.0,491.5 C2305.0,491.7 2306.0,491.8 2307.0,491.9 C2308.0,492.1 2309.0,492.2 2310.0,492.3 C2311.0,492.5 2312.0,492.6 2313.0,492.7 C2314.0,492.9 2315.0,493.0 2316.0,493.1 C2317.0,493.3 2318.0,493.4 2319.0,493.5 C2320.0,493.7 2321.0,493.8 2322.0,493.9 C2323.0,494.0 2324.0,494.2 2325.0,494.3 C2326.0,494.4 2327.0,494.5 2328.0,494.7 C2329.0,494.8 2330.0,494.9 2331.0,495.0 C2332.0,495.2 2333.0,495.3 2334.0,495.4 C2335.0,495.5 2336.0,495.6 2337.0,495.8 C2338.0,495.9 2339.0,496.0 2340.0,496.1 C2341.0,496.2 2342.0,496.4 2343.0,496.5 C2344.0,496.6 2345.0,496.7 2346.0,496.8 C2347.0,496.9 2348.0,497.1 2349.0,497.2 C2350.0,497.3 2351.0,497.4 2352.0,497.5 C2353.0,497.6 2354.0,497.7 2355.0,497.9 C2356.0,498.0 2357.0,498.1 2358.0,498.2 C2359.0,498.3 2360.0,498.4 2361.0,498.5 C2362.0,498.6 2363.0,498.8 2364.0,498.9 C2365.0,499.0 2366.0,499.1 2367.0,499.2 C2368.0,499.3 2369.0,499.4 2370.0,499.5 C2371.0,499.6 2372.0,499.8 2373.0,499.9 C2374.0,500.0 2375.0,500.1 2376.0,500.2 C2377.0,500.3 2378.0,500.4 2379.0,500.5 C2380.0,500.6 2381.0,500.7 2382.0,500.8 C2383.0,501.0 2384.0,501.1 2385.0,501.2 C2386.0,501.3 2387.0,501.4 2388.0,501.5 C2389.0,501.6 2390.0,501.7 2391.0,501.8 C2392.0,501.9 2393.0,502.1 2394.0,502.2 C2395.0,502.3 2396.0,502.4 2397.0,502.5 C2398.0,502.6 2399.0,502.7 2400.0,502.8 C2401.0,502.9 2402.0,503.0 2403.0,503.2 C2404.0,503.3 2405.0,503.4 2406.0,503.5 C2407.0,503.6 2408.0,503.7 2409.0,503.8 C2410.0,503.9 2411.0,504.0 2412.0,504.2 C2413.0,504.3 2414.0,504.4 2415.0,504.5 C2416.0,504.6 2417.0,504.7 2418.0,504.8 C2419.0,505.0 2420.0,505.1 2421.0,505.2 C2422.0,505.3 2423.0,505.4 2424.0,505.5 C2425.0,505.6 2426.0,505.8 2427.0,505.9 C2428.0,506.0 2429.0,506.1 2430.0,506.2 C2431.0,506.4 2432.0,506.5 2433.0,506.6 C2434.0,506.7 2435.2,506.9 2436.0,506.9 C2436.8,507.0 2437.4,507.1 2437.7,507.2" stroke="#ffc000"/>
<path d="M273.0,61.8 C273.5,61.8 275.0,62.0 276.0,62.1 C277.0,62.2 278.0,62.3 279.0,62.4 C280.0,62.5 281.0,62.6 282.0,62.7 C283.0,62.8 284.0,62.9 285.0,63.0 C286.0,63.1 287.0,63.2 288.0,63.3 C289.0,63.4 290.0,63.5 291.0,63.6 C292.0,63.7 293.0,63.8 294.0,63.9 C295.0,64.0 296.0,64.1 297.0,64.2 C298.0,64.2 299.0,64.3 300.0,64.4 C301.0,64.5 302.0,64.6 303.0,64.7 C304.0,64.8 305.0,64.9 306.0,65.0 C307.0,65.1 308.0,65.2 309.0,65.3 C310.0,65.4 311.0,65.5 312.0,65.6 C313.0,65.7 314.0,65.8 315.0,65.9 C316.0,66.0 317.0,66.1 318.0,66.2 C319.0,66.3 320.0,66.4 321.0,66.5 C322.0,66.6 323.0,66.7 324.0,66.8 C325.0,66.8 326.0,66.9 327.0,67.0 C328.0,67.1 329.0,67.2 330.0,67.3 C331.0,67.4 332.0,67.5 333.0,67.6 C334.0,67.7 335.0,67.8 336.0,67.9 C337.0,68.0 338.0,68.1 339.0,68.2 C340.0,68.2 341.0,68.3 342.0,68.4 C343.0,68.5 344.0,68.6 345.0,68.7 C346.0,68.8 347.0,68.9 348.0,69.0 C349.0,69.1 350.0,69.2 351.0,69.3 C352.0,69.4 353.0,69.4 354.0,69.5 C355.0,69.6 356.0,69.7 357.0,69.8 C358.0,69.9 359.0,70.0 360.0,70.1 C361.0,70.2 362.0,70.3 363.0,70.3 C364.0,70.4 365.0,70.5 366.0,70.6 C367.0,70.7 368.0,70.8 369.0,70.9 C370.0,71.0 371.0,71.1 372.0,71.1 C373.0,71.2 374.0,71.3 375.0,71.4 C376.0,71.5 377.0,71.6 378.0,71.7 C379.0,71.8 380.0,71.8 381.0,71.9 C382.0,72.0 383.0,72.1 384.0,72.2 C385.0,72.3 386.0,72.4 387.0,72.4 C388.0,72.5 389.0,72.6 390.0,72.7 C391.0,72.8 392.0,72.9 393.0,73.0 C394.0,73.0 395.0,73.1 396.0,73.2 C397.0,73.3 398.0,73.4 399.0,73.5 C400.0,73.5 401.0,73.6 402.0,73.7 C403.0,73.8 404.0,73.9 405.0,74.0 C406.0,74.0 407.0,74.1 408.0,74.2 C409.0,74.3 410.0,74.4 411.0,74.4 C412.0,74.5 413.0,74.6 414.0,74.7 C415.0,74.8 416.0,74.9 417.0,74.9 C418.0,75.0 419.0,75.1 420.0,75.2 C421.0,75.3 422.0,75.3 423.0,75.4 C424.0,75.5 425.0,75.6 426.0,75.6 C427.0,75.7 428.0,75.8 429.0,75.9 C430.0,76.0 431.0,76.0 432.0,76.1 C433.0,76.2 434.0,76.3 435.0,76.3 C436.0,76.4 437.0,76.5 438.0,76.6 C439.0,76.7 440.0,76.7 441.0,76.8 C442.0,76.9 443.0,77.0 444.0,77.0 C445.0,77.1 446.0,77.2 447.0,77.3 C448.0,77.3 449.0,77.4 450.0,77.5 C451.0,77.6 452.0,77.6 453.0,77.7 C454.0,77.8 455.0,77.8 456.0,77.9 C457.0,78.0 458.0,78.1 459.0,78.1 C460.0,78.2 461.0,78.3 462.0,78.3 C463.0,78.4 464.0,78.5 465.0,78.6 C466.0,78.6 467.0,78.7 468.0,78.8 C469.0,78.8 470.0,78.9 471.0,79.0 C472.0,79.0 473.0,79.1 474.0,79.2 C475.0,79.3 476.0,79.3 477.0,79.4 C478.0,79.5 479.0,79.5 480.0,79.6 C481.0,79.7 482.0,79.7 483.0,79.8 C484.0,79.9 485.0,79.9 486.0,80.0 C487.0,80.1 488.0,80.1 489.0,80.2 C490.0,80.3 491.0,80.3 492.0,80.4 C493.0,80.5 494.0,80.5 495.0,80.6 C496.0,80.6 497.0,80.7 498.0,80.8 C499.0,80.8 500.0,80.9 501.0,81.0 C502.0,81.0 503.0,81.1 504.0,81.1 C505.0,81.2 506.0,81.3 507.0,81.3 C508.0,81.4 509.0,81.5 510.0,81.5 C511.0,81.6 512.0,81.6 513.0,81.7 C514.0,81.8 515.0,81.8 516.0,81.9 C517.0,81.9 518.0,82.0 519.0,82.0 C520.0,82.1 521.0,82.2 522.0,82.2 C523.0,82.3 524.0,82.3 525.0,82.4 C526.0,82.4 527.0,82.5 528.0,82.6 C529.0,82.6 530.0,82.7 531.0,82.7 C532.0,82.8 533.0,82.8 534.0,82.9 C535.0,82.9 536.0,83.0 537.0,83.0 C538.0,83.1 539.0,83.2 540.0,83.2 C541.0,83.3 542.0,83.3 543.0,83.4 C544.0,83.4 545.0,83.5 546.0,83.5 C547.0,83.6 548.0,83.6 549.0,83.7 C550.0,83.7 551.0,83.8 552.0,83.8 C553.0,83.9 554.0,83.9 555.0,84.0 C556.0,84.0 557.0,84.1 558.0,84.1 C559.0,84.2 560.0,84.2 561.0,84.3 C562.0,84.3 563.0,84.4 564.0,84.4 C565.0,84.5 566.0,84.5 567.0,84.6 C568.0,84.6 569.0,84.6 570.0,84.7 C571.0,84.7 572.0,84.8 573.0,84.8 C574.0,84.9 575.0,84.9 576.0,85.0 C577.0,85.0 578.0,85.1 579.0,85.1 C580.0,85.1 581.0,85.2 582.0,85.2 C583.0,85.3 584.0,85.3 585.0,85.4 C586.0,85.4 587.0,85.5 588.0,85.5 C589.0,85.5 590.0,85.6 591.0,85.6 C592.0,85.7 593.0,85.7 594.0,85.7 C595.0,85.8 596.0,85.8 597.0,85.9 C598.0,85.9 599.0,86.0 600.0,86.0 C601.0,86.0 602.0,86.1 603.0,86.1 C604.0,86.2 605.0,86.2 606.0,86.2 C607.0,86.3 608.0,86.3 609.0,86.3 C610.0,86.4 611.0,86.4 612.0,86.5 C613.0,86.5 614.0,86.5 615.0,86.6 C616.0,86.6 617.0,86.6 618.0,86.7 C619.0,86.7 620.0,86.8 621.0,86.8 C622.0,86.8 623.0,86.9 624.0,86.9 C625.0,86.9 626.0,87.0 627.0,87.0 C628.0,87.0 629.0,87.1 630.0,87.1 C631.0,87.2 632.0,87.2 633.0,87.2 C634.0,87.3 635.0,87.3 636.0,87.3 C637.0,87.4 638.0,87.4 639.0,87.4 C640.0,87.5 641.0,87.5 642.0,87.5 C643.0,87.6 644.0,87.6 645.0,87.6 C646.0,87.7 647.0,87.7 648.0,87.7 C649.0,87.8 650.0,87.8 651.0,87.8 C652.0,87.8 653.0,87.9 654.0,87.9 C655.0,87.9 656.0,88.0 657.0,88.0 C658.0,88.0 659.0,88.1 660.0,88.1 C661.0,88.1 662.0,88.2 663.0,88.2 C664.0,88.2 665.0,88.2 666.0,88.3 C667.0,88.3 668.0,88.3 669.0,88.4 C670.0,88.4 671.0,88.4 672.0,88.4 C673.0,88.5 674.0,88.5 675.0,88.5 C676.0,88.6 677.0,88.6 678.0,88.6 C679.0,88.6 680.0,88.7 681.0,88.7 C682.0,88.7 683.0,88.8 684.0,88.8 C685.0,88.8 686.0,88.8 687.0,88.9 C688.0,88.9 689.0,88.9 690.0,88.9 C691.0,89.0 692.0,89.0 693.0,89.0 C694.0,89.0 695.0,89.1 696.0,89.1 C697.0,89.1 698.0,89.2 699.0,89.2 C700.0,89.2 701.0,89.2 702.0,89.3 C703.0,89.3 704.0,89.3 705.0,89.3 C706.0,89.4 707.0,89.4 708.0,89.4 C709.0,89.4 710.0,89.5 711.0,89.5 C712.0,89.5 713.0,89.5 714.0,89.5 C715.0,89.6 716.0,89.6 717.0,89.6 C718.0,89.6 719.0,89.7 720.0,89.7 C721.0,89.7 722.0,89.7 723.0,89.8 C724.0,89.8 725.0,89.8 726.0,89.8 C727.0,89.9 728.0,89.9 729.0,89.9 C730.0,89.9 731.0,89.9 732.0,90.0 C733.0,90.0 734.0,90.0 735.0,90.0 C736.0,90.1 737.0,90.1 738.0,90.1 C739.0,90.1 740.0,90.1 741.0,90.2 C742.0,90.2 743.0,90.2 744.0,90.2 C745.0,90.2 746.0,90.3 747.0,90.3 C748.0,90.3 749.0,90.3 750.0,90.3 C751.0,90.4 752.0,90.4 753.0,90.4 C754.0,90.4 755.0,90.5 756.0,90.5 C757.0,90.5 758.0,90.5 759.0,90.5 C760.0,90.6 761.0,90.6 762.0,90.6 C763.0,90.6 764.0,90.6 765.0,90.7 C766.0,90.7 767.0,90.7 768.0,90.7 C769.0,90.7 770.0,90.8 771.0,90.8 C772.0,90.8 773.0,90.8 774.0,90.8 C775.0,90.9 776.0,90.9 777.0,90.9 C778.0,90.9 779.0,90.9 780.0,90.9 C781.0,91.0 782.0,91.0 783.0,91.0 C784.0,91.0 785.0,91.0 786.0,91.1 C787.0,91.1 788.0,91.1 789.0,91.1 C790.0,91.1 791.0,91.2 792.0,91.2 C793.0,91.2 794.0,91.2 795.0,91.2 C796.0,91.2 797.0,91.3 798.0,91.3 C799.0,91.3 800.0,91.3 801.0,91.3 C802.0,91.4 803.0,91.4 804.0,91.4 C805.0,91.4 806.0,91.4 807.0,91.4 C808.0,91.5 809.0,91.5 810.0,91.5 C811.0,91.5 812.0,91.5 813.0,91.6 C814.0,91.6 815.0,91.6 816.0,91.6 C817.0,91.6 818.0,91.6 819.0,91.7 C820.0,91.7 821.0,91.7 822.0,91.7 C823.0,91.7 824.0,91.8 825.0,91.8 C826.0,91.8 827.0,91.8 828.0,91.8 C829.0,91.8 830.0,91.9 831.0,91.9 C832.0,91.9 833.0,91.9 834.0,91.9 C835.0,92.0 836.0,92.0 837.0,92.0 C838.0,92.0 839.0,92.0 840.0,92.0 C841.0,92.1 842.0,92.1 843.0,92.1 C844.0,92.1 845.0,92.1 846.0,92.2 C847.0,92.2 848.0,92.2 849.0,92.2 C850.0,92.2 851.0,92.2 852.0,92.3 C853.0,92.3 854.0,92.3 855.0,92.3 C856.0,92.3 857.0,92.4 858.0,92.4 C859.0,92.4 860.0,92.4 861.0,92.4 C862.0,92.5 863.0,92.5 864.0,92.5 C865.0,92.5 866.0,92.5 867.0,92.5 C868.0,92.6 869.0,92.6 870.0,92.6 C871.0,92.6 872.0,92.6 873.0,92.7 C874.0,92.7 875.0,92.7 876.0,92.7 C877.0,92.7 878.0,92.8 879.0,92.8 C880.0,92.8 881.0,92.8 882.0,92.8 C883.0,92.9 884.0,92.9 885.0,92.9 C886.0,92.9 887.0,92.9 888.0,93.0 C889.0,93.0 890.0,93.0 891.0,93.0 C892.0,93.0 893.0,93.1 894.0,93.1 C895.0,93.1 896.0,93.1 897.0,93.2 C898.0,93.2 899.0,93.2 900.0,93.2 C901.0,93.2 902.0,93.3 903.0,93.3 C904.0,93.3 905.0,93.3 906.0,93.4 C907.0,93.4 908.0,93.4 909.0,93.4 C910.0,93.4 911.0,93.5 912.0,93.5 C913.0,93.5 914.0,93.5 915.0,93.6 C916.0,93.6 917.0,93.6 918.0,93.6 C919.0,93.7 920.0,93.7 921.0,93.7 C922.0,93.7 923.0,93.7 924.0,93.8 C925.0,93.8 926.0,93.8 927.0,93.8 C928.0,93.9 929.0,93.9 930.0,93.9 C931.0,93.9 932.0,94.0 933.0,94.0 C934.0,94.0 935.0,94.0 936.0,94.1 C937.0,94.1 938.0,94.1 939.0,94.2 C940.0,94.2 941.0,94.2 942.0,94.2 C943.0,94.3 944.0,94.3 945.0,94.3 C946.0,94.3 947.0,94.4 948.0,94.4 C949.0,94.4 950.0,94.5 951.0,94.5 C952.0,94.5 953.0,94.5 954.0,94.6 C955.0,94.6 956.0,94.6 957.0,94.7 C958.0,94.7 959.0,94.7 960.0,94.7 C961.0,94.8 962.0,94.8 963.0,94.8 C964.0,94.9 965.0,94.9 966.0,94.9 C967.0,95.0 968.0,95.0 969.0,95.0 C970.0,95.1 971.0,95.1 972.0,95.1 C973.0,95.1 974.0,95.2 975.0,95.2 C976.0,95.2 977.0,95.3 978.0,95.3 C979.0,95.3 980.0,95.4 981.0,95.4 C982.0,95.4 983.0,95.5 984.0,95.5 C985.0,95.5 986.0,95.6 987.0,95.6 C988.0,95.7 989.0,95.7 990.0,95.7 C991.0,95.8 992.0,95.8 993.0,95.8 C994.0,95.9 995.0,95.9 996.0,95.9 C997.0,96.0 998.0,96.0 999.0,96.1 C1000.0,96.1 1001.0,96.1 1002.0,96.2 C1003.0,96.2 1004.0,96.2 1005.0,96.3 C1006.0,96.3 1007.0,96.4 1008.0,96.4 C1009.0,96.4 1010.0,96.5 1011.0,96.5 C1012.0,96.6 1013.0,96.6 1014.0,96.6 C1015.0,96.7 1016.0,96.7 1017.0,96.8 C1018.0,96.8 1019.0,96.8 1020.0,96.9 C1021.0,96.9 1022.0,97.0 1023.0,97.0 C1024.0,97.1 1025.0,97.1 1026.0,97.1 C1027.0,97.2 1028.0,97.2 1029.0,97.3 C1030.0,97.3 1031.0,97.4 1032.0,97.4 C1033.0,97.5 1034.0,97.5 1035.0,97.6 C1036.0,97.6 1037.0,97.6 1038.0,97.7 C1039.0,97.7 1040.0,97.8 1041.0,97.8 C1042.0,97.9 1043.0,97.9 1044.0,98.0 C1045.0,98.0 1046.0,98.1 1047.0,98.1 C1048.0,98.2 1049.0,98.2 1050.0,98.3 C1051.0,98.3 1052.0,98.4 1053.0,98.4 C1054.0,98.5 1055.0,98.5 1056.0,98.6 C1057.0,98.6 1058.0,98.7 1059.0,98.7 C1060.0,98.8 1061.0,98.9 1062.0,98.9 C1063.0,99.0 1064.0,99.0 1065.0,99.1 C1066.0,99.1 1067.0,99.2 1068.0,99.2 C1069.0,99.3 1070.0,99.3 1071.0,99.4 C1072.0,99.5 1073.0,99.5 1074.0,99.6 C1075.0,99.6 1076.0,99.7 1077.0,99.7 C1078.0,99.8 1079.0,99.9 1080.0,99.9 C1081.0,100.0 1082.0,100.0 1083.0,100.1 C1084.0,100.2 1085.0,100.2 1086.0,100.3 C1087.0,100.3 1088.0,100.4 1089.0,100.5 C1090.0,100.5 1091.0,100.6 1092.0,100.7 C1093.0,100.7 1094.0,100.8 1095.0,100.9 C1096.0,100.9 1097.0,101.0 1098.0,101.0 C1099.0,101.1 1100.0,101.2 1101.0,101.2 C1102.0,101.3 1103.0,101.4 1104.0,101.4 C1105.0,101.5 1106.0,101.6 1107.0,101.7 C1108.0,101.7 1109.0,101.8 1110.0,101.9 C1111.0,101.9 1112.0,102.0 1113.0,102.1 C1114.0,102.1 1115.0,102.2 1116.0,102.3 C1117.0,102.4 1118.0,102.4 1119.0,102.5 C1120.0,102.6 1121.0,102.7 1122.0,102.7 C1123.0,102.8 1124.0,102.9 1125.0,102.9 C1126.0,103.0 1127.0,103.1 1128.0,103.2 C1129.0,103.3 1130.0,103.3 1131.0,103.4 C1132.0,103.5 1133.0,103.6 1134.0,103.6 C1135.0,103.7 1136.0,103.8 1137.0,103.9 C1138.0,104.0 1139.0,104.0 1140.0,104.1 C1141.0,104.2 1142.0,104.3 1143.0,104.4 C1144.0,104.4 1145.0,104.5 1146.0,104.6 C1147.0,104.7 1148.0,104.8 1149.0,104.9 C1150.0,105.0 1151.0,105.0 1152.0,105.1 C1153.0,105.2 1154.0,105.3 1155.0,105.4 C1156.0,105.5 1157.0,105.6 1158.0,105.6 C1159.0,105.7 1160.0,105.8 1161.0,105.9 C1162.0,106.0 1163.0,106.1 1164.0,106.2 C1165.0,106.3 1166.0,106.4 1167.0,106.5 C1168.0,106.6 1169.0,106.6 1170.0,106.7 C1171.0,106.8 1172.0,106.9 1173.0,107.0 C1174.0,107.1 1175.0,107.2 1176.0,107.3 C1177.0,107.4 1178.0,107.5 1179.0,107.6 C1180.0,107.7 1181.0,107.8 1182.0,107.9 C1183.0,108.0 1184.0,108.1 1185.0,108.2 C1186.0,108.3 1187.0,108.4 1188.0,108.5 C1189.0,108.6 1190.0,108.7 1191.0,108.8 C1192.0,108.9 1193.0,109.0 1194.0,109.1 C1195.0,109.2 1196.0,109.3 1197.0,109.4 C1198.0,109.5 1199.0,109.6 1200.0,109.8 C1201.0,109.9 1202.0,110.0 1203.0,110.1 C1204.0,110.2 1205.0,110.3 1206.0,110.4 C1207.0,110.5 1208.0,110.6 1209.0,110.7 C1210.0,110.8 1211.0,111.0 1212.0,111.1 C1213.0,111.2 1214.0,111.3 1215.0,111.4 C1216.0,111.5 1217.0,111.6 1218.0,111.8 C1219.0,111.9 1220.0,112.0 1221.0,112.1 C1222.0,112.2 1223.0,112.3 1224.0,112.5 C1225.0,112.6 1226.0,112.7 1227.0,112.8 C1228.0,112.9 1229.0,113.0 1230.0,113.2 C1231.0,113.3 1232.0,113.4 1233.0,113.5 C1234.0,113.7 1235.0,113.8 1236.0,113.9 C1237.0,114.0 1238.0,114.1 1239.0,114.3 C1240.0,114.4 1241.0,114.5 1242.0,114.6 C1243.0,114.8 1244.0,114.9 1245.0,115.0 C1246.0,115.1 1247.0,115.3 1248.0,115.4 C1249.0,115.5 1250.0,115.7 1251.0,115.8 C1252.0,115.9 1253.0,116.1 1254.0,116.2 C1255.0,116.3 1256.0,116.4 1257.0,116.6 C1258.0,116.7 1259.0,116.8 1260.0,117.0 C1261.0,117.1 1262.0,117.2 1263.0,117.4 C1264.0,117.5 1265.0,117.7 1266.0,117.8 C1267.0,117.9 1268.0,118.1 1269.0,118.2 C1270.0,118.3 1271.0,118.5 1272.0,118.6 C1273.0,118.8 1274.0,118.9 1275.0,119.0 C1276.0,119.2 1277.0,119.3 1278.0,119.5 C1279.0,119.6 1280.0,119.7 1281.0,119.9 C1282.0,120.0 1283.0,120.2 1284.0,120.3 C1285.0,120.5 1286.0,120.6 1287.0,120.8 C1288.0,120.9 1289.0,121.0 1290.0,121.2 C1291.0,121.3 1292.0,121.5 1293.0,121.6 C1294.0,121.8 1295.0,121.9 1296.0,122.1 C1297.0,122.2 1298.0,122.4 1299.0,122.5 C1300.0,122.7 1301.0,122.8 1302.0,123.0 C1303.0,123.1 1304.0,123.3 1305.0,123.5 C1306.0,123.6 1307.0,123.8 1308.0,123.9 C1309.0,124.1 1310.0,124.2 1311.0,124.4 C1312.0,124.5 1313.0,124.7 1314.0,124.9 C1315.0,125.0 1316.0,125.2 1317.0,125.3 C1318.0,125.5 1319.0,125.7 1320.0,125.8 C1321.0,126.0 1322.0,126.1 1323.0,126.3 C1324.0,126.5 1325.0,126.6 1326.0,126.8 C1327.0,126.9 1328.0,127.1 1329.0,127.3 C1330.0,127.4 1331.0,127.6 1332.0,127.8 C1333.0,127.9 1334.0,128.1 1335.0,128.3 C1336.0,128.4 1337.0,128.6 1338.0,128.8 C1339.0,128.9 1340.0,129.1 1341.0,129.3 C1342.0,129.4 1343.0,129.6 1344.0,129.8 C1345.0,130.0 1346.0,130.1 1347.0,130.3 C1348.0,130.5 1349.0,130.7 1350.0,130.8 C1351.0,131.0 1352.0,131.2 1353.0,131.3 C1354.0,131.5 1355.0,131.7 1356.0,131.9 C1357.0,132.1 1358.0,132.2 1359.0,132.4 C1360.0,132.6 1361.0,132.8 1362.0,132.9 C1363.0,133.1 1364.0,133.3 1365.0,133.5 C1366.0,133.7 1367.0,133.8 1368.0,134.0 C1369.0,134.2 1370.0,134.4 1371.0,134.6 C1372.0,134.8 1373.0,134.9 1374.0,135.1 C1375.0,135.3 1376.0,135.5 1377.0,135.7 C1378.0,135.9 1379.0,136.0 1380.0,136.2 C1381.0,136.4 1382.0,136.6 1383.0,136.8 C1384.0,137.0 1385.0,137.2 1386.0,137.4 C1387.0,137.6 1388.0,137.7 1389.0,137.9 C1390.0,138.1 1391.0,138.3 1392.0,138.5 C1393.0,138.7 1394.0,138.9 1395.0,139.1 C1396.0,139.3 1397.0,139.5 1398.0,139.7 C1399.0,139.9 1400.0,140.1 1401.0,140.3 C1402.0,140.5 1403.0,140.7 1404.0,140.8 C1405.0,141.0 1406.0,141.2 1407.0,141.4 C1408.0,141.6 1409.0,141.8 1410.0,142.0 C1411.0,142.2 1412.0,142.4 1413.0,142.6 C1414.0,142.8 1415.0,143.0 1416.0,143.2 C1417.0,143.5 1418.0,143.7 1419.0,143.9 C1420.0,144.1 1421.0,144.3 1422.0,144.5 C1423.0,144.7 1424.0,144.9 1425.0,145.1 C1426.0,145.3 1427.0,145.5 1428.0,145.7 C1429.0,145.9 1430.0,146.1 1431.0,146.3 C1432.0,146.5 1433.0,146.8 1434.0,147.0 C1435.0,147.2 1436.0,147.4 1437.0,147.6 C1438.0,147.8 1439.0,148.0 1440.0,148.2 C1441.0,148.5 1442.0,148.7 1443.0,148.9 C1444.0,149.1 1445.0,149.3 1446.0,149.5 C1447.0,149.7 1448.0,150.0 1449.0,150.2 C1450.0,150.4 1451.0,150.6 1452.0,150.8 C1453.0,151.0 1454.0,151.3 1455.0,151.5 C1456.0,151.7 1457.0,151.9 1458.0,152.1 C1459.0,152.4 1460.0,152.6 1461.0,152.8 C1462.0,153.0 1463.5,153.4 1464.0,153.5 C1464.5,153.6 1460.1,152.8 1464.2,153.5 C1468.3,154.3 1483.0,157.1 1488.4,158.1 C1493.8,159.1 1494.6,158.9 1496.6,159.6 C1498.6,160.3 1497.8,161.3 1500.5,162.2 C1503.2,163.1 1510.1,164.3 1512.6,164.9 C1515.1,165.5 1514.6,165.5 1515.6,165.7 C1516.6,166.0 1517.6,166.3 1518.6,166.6 C1519.6,166.8 1520.6,167.1 1521.6,167.4 C1522.6,167.6 1523.6,167.9 1524.6,168.2 C1525.6,168.4 1526.6,168.7 1527.6,168.9 C1528.6,169.2 1529.6,169.5 1530.6,169.7 C1531.6,170.0 1532.6,170.2 1533.6,170.5 C1534.6,170.8 1535.6,171.0 1536.6,171.3 C1537.6,171.5 1538.6,171.8 1539.6,172.0 C1540.6,172.3 1541.6,172.5 1542.6,172.8 C1543.6,173.0 1544.6,173.3 1545.6,173.5 C1546.6,173.8 1547.6,174.0 1548.6,174.2 C1549.6,174.5 1550.6,174.7 1551.6,175.0 C1552.6,175.2 1553.6,175.4 1554.6,175.7 C1555.6,175.9 1556.6,176.2 1557.6,176.4 C1558.6,176.6 1559.6,176.9 1560.6,177.1 C1561.6,177.3 1562.6,177.6 1563.6,177.8 C1564.6,178.0 1565.6,178.3 1566.6,178.5 C1567.6,178.7 1568.6,178.9 1569.6,179.2 C1570.6,179.4 1571.6,179.6 1572.6,179.8 C1573.6,180.1 1574.6,180.3 1575.6,180.5 C1576.6,180.7 1577.6,181.0 1578.6,181.2 C1579.6,181.4 1580.6,181.6 1581.6,181.8 C1582.6,182.0 1583.6,182.3 1584.6,182.5 C1585.6,182.7 1586.6,182.9 1587.6,183.1 C1588.6,183.3 1589.6,183.5 1590.6,183.8 C1591.6,184.0 1592.6,184.2 1593.6,184.4 C1594.6,184.6 1595.6,184.8 1596.6,185.0 C1597.6,185.2 1598.6,185.4 1599.6,185.6 C1600.6,185.8 1601.6,186.0 1602.6,186.2 C1603.6,186.4 1604.6,186.7 1605.6,186.9 C1606.6,187.1 1607.6,187.3 1608.6,187.5 C1609.6,187.7 1610.6,187.8 1611.6,188.0 C1612.6,188.2 1613.6,188.4 1614.6,188.6 C1615.6,188.8 1616.6,189.0 1617.6,189.2 C1618.6,189.4 1619.6,189.6 1620.6,189.8 C1621.6,190.0 1622.6,190.2 1623.6,190.4 C1624.6,190.6 1625.6,190.8 1626.6,190.9 C1627.6,191.1 1628.6,191.3 1629.6,191.5 C1630.6,191.7 1631.6,191.9 1632.6,192.1 C1633.6,192.2 1634.6,192.4 1635.6,192.6 C1636.6,192.8 1637.6,193.0 1638.6,193.2 C1639.6,193.3 1640.6,193.5 1641.6,193.7 C1642.6,193.9 1643.6,194.1 1644.6,194.2 C1645.6,194.4 1646.6,194.6 1647.6,194.8 C1648.6,194.9 1649.6,195.1 1650.6,195.3 C1651.6,195.5 1652.6,195.7 1653.6,195.8 C1654.6,196.0 1655.6,196.2 1656.6,196.3 C1657.6,196.5 1658.6,196.7 1659.6,196.9 C1660.6,197.0 1661.6,197.2 1662.6,197.4 C1663.6,197.5 1664.6,197.7 1665.6,197.9 C1666.6,198.0 1667.6,198.2 1668.6,198.4 C1669.6,198.5 1670.6,198.7 1671.6,198.9 C1672.6,199.0 1673.6,199.2 1674.6,199.4 C1675.6,199.5 1676.6,199.7 1677.6,199.9 C1678.6,200.0 1679.6,200.2 1680.6,200.4 C1681.6,200.5 1682.6,200.7 1683.6,200.8 C1684.6,201.0 1685.6,201.2 1686.6,201.3 C1687.6,201.5 1688.6,201.6 1689.6,201.8 C1690.6,202.0 1691.6,202.1 1692.6,202.3 C1693.6,202.4 1694.6,202.6 1695.6,202.7 C1696.6,202.9 1697.6,203.1 1698.6,203.2 C1699.6,203.4 1700.6,203.5 1701.6,203.7 C1702.6,203.8 1703.6,204.0 1704.6,204.1 C1705.6,204.3 1706.6,204.4 1707.6,204.6 C1708.6,204.7 1709.6,204.9 1710.6,205.1 C1711.6,205.2 1712.6,205.4 1713.6,205.5 C1714.6,205.7 1715.6,205.8 1716.6,206.0 C1717.6,206.1 1718.6,206.3 1719.6,206.4 C1720.6,206.6 1721.6,206.7 1722.6,206.8 C1723.6,207.0 1724.6,207.1 1725.6,207.3 C1726.6,207.4 1727.6,207.6 1728.6,207.7 C1729.6,207.9 1730.6,208.0 1731.6,208.2 C1732.6,208.3 1733.6,208.5 1734.6,208.6 C1735.6,208.8 1736.6,208.9 1737.6,209.0 C1738.6,209.2 1739.6,209.3 1740.6,209.5 C1741.6,209.6 1742.6,209.8 1743.6,209.9 C1744.6,210.0 1745.6,210.2 1746.6,210.3 C1747.6,210.5 1748.6,210.6 1749.6,210.8 C1750.6,210.9 1751.6,211.0 1752.6,211.2 C1753.6,211.3 1754.6,211.5 1755.6,211.6 C1756.6,211.7 1757.6,211.9 1758.6,212.0 C1759.6,212.2 1760.6,212.3 1761.6,212.5 C1762.6,212.6 1763.6,212.7 1764.6,212.9 C1765.6,213.0 1766.6,213.2 1767.6,213.3 C1768.6,213.4 1769.6,213.6 1770.6,213.7 C1771.6,213.8 1772.6,214.0 1773.6,214.1 C1774.6,214.3 1775.6,214.4 1776.6,214.5 C1777.6,214.7 1778.6,214.8 1779.6,215.0 C1780.6,215.1 1781.6,215.2 1782.6,215.4 C1783.6,215.5 1784.6,215.6 1785.6,215.8 C1786.6,215.9 1787.6,216.1 1788.6,216.2 C1789.6,216.3 1790.6,216.5 1791.6,216.6 C1792.6,216.7 1793.6,216.9 1794.6,217.0 C1795.6,217.2 1796.6,217.3 1797.6,217.4 C1798.6,217.6 1799.6,217.7 1800.6,217.8 C1801.6,218.0 1802.6,218.1 1803.6,218.3 C1804.6,218.4 1805.6,218.5 1806.6,218.7 C1807.6,218.8 1808.6,218.9 1809.6,219.1 C1810.6,219.2 1811.6,219.4 1812.6,219.5 C1813.6,219.6 1814.6,219.8 1815.6,219.9 C1816.6,220.0 1817.6,220.2 1818.6,220.3 C1819.6,220.5 1820.6,220.6 1821.6,220.7 C1822.6,220.9 1823.6,221.0 1824.6,221.1 C1825.6,221.3 1826.6,221.4 1827.6,221.6 C1828.6,221.7 1829.6,221.8 1830.6,222.0 C1831.6,222.1 1832.6,222.3 1833.6,222.4 C1834.6,222.5 1835.6,222.7 1836.6,222.8 C1837.6,222.9 1838.6,223.1 1839.6,223.2 C1840.6,223.4 1841.6,223.5 1842.6,223.6 C1843.6,223.8 1844.6,223.9 1845.6,224.1 C1846.6,224.2 1847.6,224.3 1848.6,224.5 C1849.6,224.6 1850.6,224.8 1851.6,224.9 C1852.6,225.0 1853.6,225.2 1854.6,225.3 C1855.6,225.5 1856.6,225.6 1857.6,225.8 C1858.6,225.9 1859.6,226.0 1860.6,226.2 C1861.6,226.3 1862.6,226.5 1863.6,226.6 C1864.6,226.8 1865.6,226.9 1866.6,227.0 C1867.6,227.2 1868.6,227.3 1869.6,227.5 C1870.6,227.6 1871.6,227.8 1872.6,227.9 C1873.6,228.1 1874.6,228.2 1875.6,228.3 C1876.6,228.5 1877.6,228.6 1878.6,228.8 C1879.6,228.9 1880.6,229.1 1881.6,229.2 C1882.6,229.4 1883.6,229.5 1884.6,229.7 C1885.6,229.8 1886.6,230.0 1887.6,230.1 C1888.6,230.3 1889.6,230.4 1890.6,230.6 C1891.6,230.7 1892.6,230.9 1893.6,231.0 C1894.6,231.2 1895.6,231.3 1896.6,231.5 C1897.6,231.6 1898.6,231.8 1899.6,231.9 C1900.6,232.1 1901.6,232.2 1902.6,232.4 C1903.6,232.5 1904.6,232.7 1905.6,232.8 C1906.6,233.0 1907.6,233.1 1908.6,233.3 C1909.6,233.4 1910.6,233.6 1911.6,233.8 C1912.6,233.9 1913.6,234.1 1914.6,234.2 C1915.6,234.4 1916.6,234.5 1917.6,234.7 C1918.6,234.9 1919.6,235.0 1920.6,235.2 C1921.6,235.3 1922.6,235.5 1923.6,235.7 C1924.6,235.8 1925.6,236.0 1926.6,236.1 C1927.6,236.3 1928.6,236.5 1929.6,236.6 C1930.6,236.8 1931.6,237.0 1932.6,237.1 C1933.6,237.3 1934.6,237.4 1935.6,237.6 C1936.6,237.8 1937.6,237.9 1938.6,238.1 C1939.6,238.3 1940.6,238.4 1941.6,238.6 C1942.6,238.8 1943.6,238.9 1944.6,239.1 C1945.6,239.3 1946.6,239.5 1947.6,239.6 C1948.6,239.8 1949.6,240.0 1950.6,240.1 C1951.6,240.3 1952.6,240.5 1953.6,240.7 C1954.6,240.8 1955.6,241.0 1956.6,241.2 C1957.6,241.4 1958.6,241.5 1959.6,241.7 C1960.6,241.9 1961.6,242.1 1962.6,242.2 C1963.6,242.4 1964.6,242.6 1965.6,242.8 C1966.6,243.0 1967.6,243.1 1968.6,243.3 C1969.6,243.5 1970.6,243.7 1971.6,243.9 C1972.6,244.0 1973.6,244.2 1974.6,244.4 C1975.6,244.6 1976.6,244.8 1977.6,245.0 C1978.6,245.2 1979.6,245.3 1980.6,245.5 C1981.6,245.7 1982.6,245.9 1983.6,246.1 C1984.6,246.3 1985.6,246.5 1986.6,246.7 C1987.6,246.9 1988.6,247.1 1989.6,247.2 C1990.6,247.4 1991.6,247.6 1992.6,247.8 C1993.6,248.0 1994.6,248.2 1995.6,248.4 C1996.6,248.6 1997.6,248.8 1998.6,249.0 C1999.6,249.2 2000.6,249.4 2001.6,249.6 C2002.6,249.8 2003.6,250.0 2004.6,250.2 C2005.6,250.4 2006.6,250.6 2007.6,250.8 C2008.6,251.0 2009.6,251.2 2010.6,251.5 C2011.6,251.7 2012.6,251.9 2013.6,252.1 C2014.6,252.3 2015.6,252.5 2016.6,252.7 C2017.6,252.9 2018.6,253.2 2019.6,253.4 C2020.6,253.6 2021.6,253.8 2022.6,254.0 C2023.6,254.3 2024.6,254.5 2025.6,254.7 C2026.6,254.9 2027.6,255.2 2028.6,255.4 C2029.6,255.6 2030.6,255.9 2031.6,256.1 C2032.6,256.3 2033.6,256.6 2034.6,256.8 C2035.6,257.0 2036.6,257.3 2037.6,257.5 C2038.6,257.8 2039.6,258.0 2040.6,258.2 C2041.6,258.5 2042.6,258.7 2043.6,259.0 C2044.6,259.2 2045.6,259.5 2046.6,259.7 C2047.6,260.0 2048.6,260.3 2049.6,260.5 C2050.6,260.8 2051.6,261.0 2052.6,261.3 C2053.6,261.6 2054.6,261.8 2055.6,262.1 C2056.6,262.4 2057.6,262.7 2058.6,262.9 C2059.6,263.2 2060.6,263.5 2061.6,263.8 C2062.6,264.0 2063.6,264.3 2064.6,264.6 C2065.6,264.9 2066.6,265.2 2067.6,265.5 C2068.6,265.8 2069.6,266.1 2070.6,266.4 C2071.6,266.7 2072.6,267.0 2073.6,267.3 C2074.6,267.6 2075.6,267.9 2076.6,268.2 C2077.6,268.5 2078.6,268.8 2079.6,269.2 C2080.6,269.5 2081.6,269.8 2082.6,270.1 C2083.6,270.4 2084.6,270.8 2085.6,271.1 C2086.6,271.4 2087.6,271.8 2088.6,272.1 C2089.6,272.4 2090.6,272.8 2091.6,273.1 C2092.6,273.5 2093.6,273.8 2094.6,274.2 C2095.6,274.5 2096.6,274.9 2097.6,275.3 C2098.6,275.6 2099.6,276.0 2100.6,276.3 C2101.6,276.7 2102.6,277.1 2103.6,277.5 C2104.6,277.8 2105.6,278.2 2106.6,278.6 C2107.6,279.0 2108.6,279.4 2109.6,279.8 C2110.6,280.2 2111.6,280.6 2112.6,281.0 C2113.6,281.4 2114.6,281.8 2115.6,282.2 C2116.6,282.6 2117.6,283.0 2118.6,283.4 C2119.6,283.8 2120.6,284.2 2121.6,284.7 C2122.6,285.1 2123.6,285.5 2124.6,286.0 C2125.6,286.4 2126.6,286.8 2127.6,287.3 C2128.6,287.7 2129.6,288.2 2130.6,288.6 C2131.6,289.1 2132.6,289.5 2133.6,290.0 C2134.6,290.5 2135.6,290.9 2136.6,291.4 C2137.6,291.9 2138.6,292.4 2139.6,292.8 C2140.6,293.3 2141.6,293.8 2142.6,294.3 C2143.6,294.8 2144.6,295.3 2145.6,295.8 C2146.6,296.3 2147.6,296.8 2148.6,297.3 C2149.6,297.8 2150.6,298.3 2151.6,298.9 C2152.6,299.4 2153.6,299.9 2154.6,300.5 C2155.6,301.0 2156.6,301.5 2157.6,302.1 C2158.6,302.6 2159.6,303.2 2160.6,303.7 C2161.6,304.3 2162.6,304.8 2163.6,305.4 C2164.6,306.0 2165.6,306.5 2166.6,307.1 C2167.6,307.7 2168.6,308.3 2169.6,308.9 C2170.6,309.5 2171.6,310.1 2172.6,310.7 C2173.6,311.3 2174.6,311.9 2175.6,312.5 C2176.6,313.1 2177.6,313.7 2178.6,314.3 C2179.6,314.9 2180.6,315.6 2181.6,316.2 C2182.6,316.8 2183.6,317.5 2184.6,318.1 C2185.6,318.8 2186.6,319.4 2187.6,320.1 C2188.6,320.8 2189.6,321.4 2190.6,322.1 C2191.6,322.8 2192.6,323.5 2193.6,324.1 C2194.6,324.8 2195.6,325.5 2196.6,326.2 C2197.6,326.9 2198.6,327.6 2199.6,328.3 C2200.6,329.0 2201.6,329.7 2202.6,330.4 C2203.6,331.1 2204.6,331.8 2205.6,332.5 C2206.6,333.2 2207.6,333.9 2208.6,334.6 C2209.6,335.4 2210.6,336.1 2211.6,336.8 C2212.6,337.5 2213.6,338.2 2214.6,338.9 C2215.6,339.6 2216.6,340.3 2217.6,341.0 C2218.6,341.7 2219.6,342.4 2220.6,343.1 C2221.6,343.8 2222.6,344.5 2223.6,345.2 C2224.6,345.9 2225.6,346.5 2226.6,347.2 C2227.6,347.9 2228.6,348.6 2229.6,349.2 C2230.6,349.9 2231.6,350.5 2232.6,351.2 C2233.6,351.8 2234.6,352.5 2235.6,353.1 C2236.6,353.7 2237.6,354.4 2238.6,355.0 C2239.6,355.6 2240.6,356.2 2241.6,356.8 C2242.6,357.4 2243.6,358.0 2244.6,358.5 C2245.6,359.1 2246.6,359.7 2247.6,360.2 C2248.6,360.8 2249.6,361.3 2250.6,361.8 C2251.6,362.4 2252.6,362.9 2253.6,363.4 C2254.6,363.9 2255.6,364.4 2256.6,364.9 C2257.6,365.4 2258.6,365.9 2259.6,366.4 C2260.6,366.8 2261.6,367.3 2262.6,367.8 C2263.6,368.2 2264.6,368.7 2265.6,369.1 C2266.6,369.5 2267.6,370.0 2268.6,370.4 C2269.6,370.8 2270.6,371.2 2271.6,371.6 C2272.6,372.0 2273.6,372.4 2274.6,372.8 C2275.6,373.2 2276.6,373.6 2277.6,373.9 C2278.6,374.3 2279.6,374.7 2280.6,375.0 C2281.6,375.4 2282.6,375.7 2283.6,376.0 C2284.6,376.4 2285.6,376.7 2286.6,377.0 C2287.6,377.3 2288.6,377.6 2289.6,378.0 C2290.6,378.3 2291.6,378.6 2292.6,378.8 C2293.6,379.1 2294.6,379.4 2295.6,379.7 C2296.6,380.0 2297.6,380.2 2298.6,380.5 C2299.6,380.7 2300.6,381.0 2301.6,381.2 C2302.6,381.5 2303.6,381.7 2304.6,382.0 C2305.6,382.2 2306.6,382.4 2307.6,382.6 C2308.6,382.8 2309.6,383.1 2310.6,383.3 C2311.6,383.5 2312.6,383.7 2313.6,383.9 C2314.6,384.1 2315.6,384.3 2316.6,384.4 C2317.6,384.6 2318.6,384.8 2319.6,385.0 C2320.6,385.2 2321.6,385.3 2322.6,385.5 C2323.6,385.7 2324.6,385.8 2325.6,386.0 C2326.6,386.1 2327.6,386.3 2328.6,386.4 C2329.6,386.6 2330.6,386.7 2331.6,386.9 C2332.6,387.0 2333.6,387.1 2334.6,387.3 C2335.6,387.4 2336.6,387.5 2337.6,387.7 C2338.6,387.8 2339.6,387.9 2340.6,388.0 C2341.6,388.2 2342.6,388.3 2343.6,388.4 C2344.6,388.5 2345.6,388.6 2346.6,388.8 C2347.6,388.9 2348.6,389.0 2349.6,389.1 C2350.6,389.2 2351.6,389.3 2352.6,389.4 C2353.6,389.5 2354.6,389.6 2355.6,389.7 C2356.6,389.8 2357.6,389.9 2358.6,390.1 C2359.6,390.2 2360.6,390.3 2361.6,390.4 C2362.6,390.5 2363.6,390.6 2364.6,390.7 C2365.6,390.8 2366.6,390.9 2367.6,391.0 C2368.6,391.1 2369.6,391.2 2370.6,391.3 C2371.6,391.4 2372.6,391.5 2373.6,391.6 C2374.6,391.7 2375.6,391.8 2376.6,391.9 C2377.6,392.1 2378.6,392.2 2379.6,392.3 C2380.6,392.4 2381.6,392.5 2382.6,392.6 C2383.6,392.7 2384.6,392.9 2385.6,393.0 C2386.6,393.1 2387.6,393.2 2388.6,393.4 C2389.6,393.5 2390.6,393.6 2391.6,393.7 C2392.6,393.9 2393.6,394.0 2394.6,394.1 C2395.6,394.3 2396.6,394.4 2397.6,394.5 C2398.6,394.7 2399.6,394.8 2400.6,394.9 C2401.6,395.1 2402.6,395.2 2403.6,395.4 C2404.6,395.5 2405.6,395.6 2406.6,395.8 C2407.6,395.9 2408.6,396.1 2409.6,396.2 C2410.6,396.4 2411.6,396.5 2412.6,396.7 C2413.6,396.9 2414.6,397.0 2415.6,397.2 C2416.6,397.3 2417.6,397.5 2418.6,397.7 C2419.6,397.8 2420.6,398.0 2421.6,398.2 C2422.6,398.3 2423.6,398.5 2424.6,398.7 C2425.6,398.8 2426.6,399.0 2427.6,399.2 C2428.6,399.4 2429.6,399.5 2430.6,399.7 C2431.6,399.9 2432.6,400.1 2433.6,400.3 C2434.6,400.5 2435.7,400.7 2436.6,400.8 C2437.5,401.0 2438.6,401.2 2439.0,401.3" stroke="#1e9bd8"/>
</g>
<g font-family="Liberation Serif, serif" font-size="65" fill="#000" text-anchor="end">
<text x="213" y="1068.2">0</text>
<text x="213" y="969.5" textLength="62.4" lengthAdjust="spacingAndGlyphs">10</text>
<text x="213" y="870.8" textLength="62.4" lengthAdjust="spacingAndGlyphs">20</text>
<text x="213" y="772.0" textLength="62.4" lengthAdjust="spacingAndGlyphs">30</text>
<text x="213" y="673.3" textLength="62.4" lengthAdjust="spacingAndGlyphs">40</text>
<text x="213" y="574.6" textLength="62.4" lengthAdjust="spacingAndGlyphs">50</text>
<text x="213" y="475.8" textLength="62.4" lengthAdjust="spacingAndGlyphs">60</text>
<text x="213" y="377.1" textLength="62.4" lengthAdjust="spacingAndGlyphs">70</text>
<text x="213" y="278.4" textLength="62.4" lengthAdjust="spacingAndGlyphs">80</text>
<text x="213" y="179.7" textLength="62.4" lengthAdjust="spacingAndGlyphs">90</text>
<text x="213" y="81.0" textLength="95.9" lengthAdjust="spacingAndGlyphs">100</text>
</g>
<g font-family="Liberation Serif, serif" font-size="65" fill="#000" text-anchor="middle">
<text x="275" y="1146">22</text>
<text x="764.3" y="1146" textLength="92.6" lengthAdjust="spacingAndGlyphs">200</text>
<text x="1254" y="1146" textLength="94" lengthAdjust="spacingAndGlyphs">376</text>
<text x="1744.3" y="1146" textLength="94.4" lengthAdjust="spacingAndGlyphs">552</text>
<text x="2234.5" y="1146" textLength="94.4" lengthAdjust="spacingAndGlyphs">727</text>
</g>
<text x="1358" y="1247.7" font-family="Liberation Serif, serif" font-weight="bold" font-size="63.4" text-anchor="middle">Temperature [°C]</text>
<text transform="translate(81.4,556) rotate(-90)" x="0" y="0" font-family="Liberation Serif, serif" font-weight="bold" font-size="63.2" text-anchor="middle">Weight [%]</text>
<line x1="820" x2="950" y1="1332" y2="1332" stroke="#fe7f27" stroke-width="8" stroke-linecap="round"/>
<text x="965" y="1351.7" font-family="Liberation Serif, serif" font-size="65" textLength="103" lengthAdjust="spacingAndGlyphs">raw</text>
<line x1="1128" x2="1257" y1="1332" y2="1332" stroke="#b0adac" stroke-width="8" stroke-linecap="round"/>
<text x="1271.5" y="1351.7" font-family="Liberation Serif, serif" font-size="65" textLength="93.3" lengthAdjust="spacingAndGlyphs">200</text>
<line x1="1421" x2="1551" y1="1332" y2="1332" stroke="#ffc000" stroke-width="8" stroke-linecap="round"/>
<text x="1564.7" y="1351.7" font-family="Liberation Serif, serif" font-size="65" textLength="94.5" lengthAdjust="spacingAndGlyphs">250</text>
<line x1="1716" x2="1846" y1="1332" y2="1332" stroke="#1e9bd8" stroke-width="8" stroke-linecap="round"/>
<text x="1858.5" y="1351.7" font-family="Liberation Serif, serif" font-size="65" textLength="95.6" lengthAdjust="spacingAndGlyphs">300</text>
</svg>
</body></html>
